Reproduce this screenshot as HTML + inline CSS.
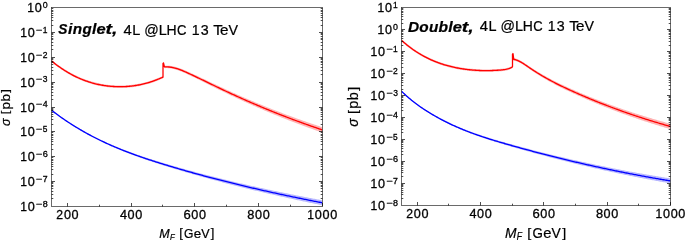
<!DOCTYPE html>
<html><head><meta charset="utf-8"><style>
html,body{margin:0;padding:0;background:#fff;}
svg{display:block;filter:blur(0.3px);}
text{font-family:"Liberation Sans",sans-serif;fill:#000;stroke:#000;stroke-width:0.3px;}
.t{stroke-width:0.3px;}
.a{stroke-width:0.22px;}
</style></head><body>
<svg width="685" height="240" viewBox="0 0 685 240">
<rect width="685" height="240" fill="#fff"/>
<path d="M51.60,59.79 L52.60,60.60 L53.60,61.40 L54.60,62.18 L55.60,62.95 L56.60,63.71 L57.60,64.45 L58.60,65.18 L59.60,65.89 L60.60,66.58 L61.60,67.27 L62.60,67.93 L63.60,68.59 L64.60,69.23 L65.60,69.86 L66.60,70.47 L67.60,71.07 L68.60,71.65 L69.60,72.22 L70.60,72.78 L71.60,73.33 L72.60,73.86 L73.60,74.37 L74.60,74.88 L75.60,75.37 L76.60,75.85 L77.60,76.32 L78.60,76.77 L79.60,77.21 L80.60,77.64 L81.60,78.05 L82.60,78.46 L83.60,78.85 L84.60,79.23 L85.60,79.59 L86.60,79.95 L87.60,80.29 L88.60,80.62 L89.60,80.94 L90.60,81.25 L91.60,81.55 L92.60,81.83 L93.60,82.10 L94.60,82.36 L95.60,82.62 L96.60,82.85 L97.60,83.08 L98.60,83.30 L99.60,83.51 L100.60,83.70 L101.60,83.89 L102.60,84.06 L103.60,84.23 L104.60,84.38 L105.60,84.53 L106.60,84.66 L107.60,84.78 L108.60,84.90 L109.60,85.00 L110.60,85.09 L111.60,85.18 L112.60,85.25 L113.60,85.32 L114.60,85.37 L115.60,85.42 L116.60,85.46 L117.60,85.48 L118.60,85.50 L119.60,85.51 L120.60,85.51 L121.60,85.50 L122.60,85.48 L123.60,85.45 L124.60,85.41 L125.60,85.36 L126.60,85.30 L127.60,85.23 L128.60,85.15 L129.60,85.06 L130.60,84.96 L131.60,84.85 L132.60,84.73 L133.60,84.60 L134.60,84.46 L135.60,84.31 L136.60,84.14 L137.60,83.97 L138.60,83.79 L139.60,83.59 L140.60,83.39 L141.60,83.17 L142.60,82.95 L143.60,82.71 L144.60,82.46 L145.60,82.20 L146.60,81.93 L147.60,81.65 L148.60,81.36 L149.60,81.06 L150.60,80.74 L151.60,80.42 L152.60,80.08 L153.60,79.73 L154.60,79.37 L155.60,79.00 L156.60,78.62 L157.60,78.22 L158.60,77.81 L159.60,77.39 L160.60,76.96 L161.60,76.52 L162.50,76.11 L163.00,76.00 L163.00,62.20 L163.50,61.70 L164.40,65.70 L165.00,65.74 L166.00,65.69 L167.00,65.67 L168.00,65.70 L169.00,65.76 L170.00,65.86 L171.00,65.98 L172.00,66.14 L173.00,66.33 L174.00,66.55 L175.00,66.79 L176.00,67.06 L177.00,67.35 L178.00,67.67 L179.00,68.00 L180.00,68.35 L181.00,68.72 L182.00,69.11 L183.00,69.51 L184.00,69.92 L185.00,70.34 L186.00,70.77 L187.00,71.22 L188.00,71.66 L189.00,72.11 L190.00,72.57 L191.00,73.03 L192.00,73.49 L193.00,73.95 L194.00,74.41 L195.00,74.88 L196.00,75.34 L197.00,75.81 L198.00,76.28 L199.00,76.75 L200.00,77.22 L201.00,77.69 L202.00,78.16 L203.00,78.64 L204.00,79.11 L205.00,79.58 L206.00,80.06 L207.00,80.53 L208.00,81.01 L209.00,81.48 L210.00,81.96 L211.00,82.43 L212.00,82.90 L213.00,83.38 L214.00,83.85 L215.00,84.33 L216.00,84.80 L217.00,85.27 L218.00,85.74 L219.00,86.21 L220.00,86.68 L221.00,87.15 L222.00,87.62 L223.00,88.08 L224.00,88.54 L225.00,89.01 L226.00,89.47 L227.00,89.93 L228.00,90.39 L229.00,90.84 L230.00,91.30 L231.00,91.75 L232.00,92.20 L233.00,92.65 L234.00,93.10 L235.00,93.55 L236.00,94.00 L237.00,94.44 L238.00,94.89 L239.00,95.33 L240.00,95.77 L241.00,96.21 L242.00,96.65 L243.00,97.09 L244.00,97.52 L245.00,97.95 L246.00,98.39 L247.00,98.82 L248.00,99.25 L249.00,99.68 L250.00,100.10 L251.00,100.53 L252.00,100.95 L253.00,101.37 L254.00,101.79 L255.00,102.21 L256.00,102.63 L257.00,103.05 L258.00,103.46 L259.00,103.88 L260.00,104.29 L261.00,104.70 L262.00,105.11 L263.00,105.52 L264.00,105.92 L265.00,106.33 L266.00,106.73 L267.00,107.14 L268.00,107.54 L269.00,107.94 L270.00,108.33 L271.00,108.73 L272.00,109.13 L273.00,109.52 L274.00,109.91 L275.00,110.30 L276.00,110.69 L277.00,111.08 L278.00,111.47 L279.00,111.85 L280.00,112.23 L281.00,112.62 L282.00,113.00 L283.00,113.38 L284.00,113.76 L285.00,114.13 L286.00,114.51 L287.00,114.88 L288.00,115.25 L289.00,115.62 L290.00,115.99 L291.00,116.36 L292.00,116.73 L293.00,117.09 L294.00,117.46 L295.00,117.82 L296.00,118.18 L297.00,118.54 L298.00,118.90 L299.00,119.26 L300.00,119.61 L301.00,119.97 L302.00,120.32 L303.00,120.67 L304.00,121.02 L305.00,121.37 L306.00,121.71 L307.00,122.06 L308.00,122.40 L309.00,122.75 L310.00,123.09 L311.00,123.43 L312.00,123.76 L313.00,124.10 L314.00,124.44 L315.00,124.77 L316.00,125.10 L317.00,125.43 L318.00,125.76 L319.00,126.09 L320.00,126.42 L321.00,126.75 L322.00,127.07 L322.20,127.13 L322.20,132.53 L322.00,132.47 L321.00,132.12 L320.00,131.78 L319.00,131.43 L318.00,131.08 L317.00,130.74 L316.00,130.39 L315.00,130.03 L314.00,129.68 L313.00,129.33 L312.00,128.97 L311.00,128.61 L310.00,128.25 L309.00,127.89 L308.00,127.53 L307.00,127.17 L306.00,126.80 L305.00,126.44 L304.00,126.07 L303.00,125.70 L302.00,125.33 L301.00,124.96 L300.00,124.59 L299.00,124.21 L298.00,123.84 L297.00,123.46 L296.00,123.08 L295.00,122.70 L294.00,122.32 L293.00,121.94 L292.00,121.55 L291.00,121.17 L290.00,120.78 L289.00,120.39 L288.00,120.00 L287.00,119.61 L286.00,119.22 L285.00,118.82 L284.00,118.43 L283.00,118.03 L282.00,117.63 L281.00,117.23 L280.00,116.83 L279.00,116.43 L278.00,116.02 L277.00,115.62 L276.00,115.21 L275.00,114.80 L274.00,114.39 L273.00,113.98 L272.00,113.57 L271.00,113.15 L270.00,112.74 L269.00,112.32 L268.00,111.90 L267.00,111.48 L266.00,111.06 L265.00,110.64 L264.00,110.21 L263.00,109.79 L262.00,109.36 L261.00,108.93 L260.00,108.50 L259.00,108.07 L258.00,107.64 L257.00,107.20 L256.00,106.77 L255.00,106.33 L254.00,105.89 L253.00,105.45 L252.00,105.01 L251.00,104.57 L250.00,104.12 L249.00,103.68 L248.00,103.23 L247.00,102.78 L246.00,102.33 L245.00,101.88 L244.00,101.43 L243.00,100.97 L242.00,100.52 L241.00,100.06 L240.00,99.60 L239.00,99.14 L238.00,98.68 L237.00,98.22 L236.00,97.75 L235.00,97.29 L234.00,96.82 L233.00,96.35 L232.00,95.88 L231.00,95.41 L230.00,94.94 L229.00,94.46 L228.00,93.99 L227.00,93.51 L226.00,93.03 L225.00,92.55 L224.00,92.07 L223.00,91.59 L222.00,91.10 L221.00,90.62 L220.00,90.13 L219.00,89.64 L218.00,89.15 L217.00,88.66 L216.00,88.17 L215.00,87.68 L214.00,87.19 L213.00,86.70 L212.00,86.20 L211.00,85.71 L210.00,85.21 L209.00,84.72 L208.00,84.23 L207.00,83.73 L206.00,83.24 L205.00,82.75 L204.00,82.25 L203.00,81.76 L202.00,81.27 L201.00,80.78 L200.00,80.29 L199.00,79.80 L198.00,79.31 L197.00,78.82 L196.00,78.33 L195.00,77.85 L194.00,77.37 L193.00,76.88 L192.00,76.40 L191.00,75.92 L190.00,75.45 L189.00,74.97 L188.00,74.50 L187.00,74.03 L186.00,73.58 L185.00,73.12 L184.00,72.68 L183.00,72.25 L182.00,71.83 L181.00,71.43 L180.00,71.04 L179.00,70.67 L178.00,70.31 L177.00,69.98 L176.00,69.67 L175.00,69.38 L174.00,69.12 L173.00,68.89 L172.00,68.68 L171.00,68.50 L170.00,68.35 L169.00,68.24 L168.00,68.16 L167.00,68.11 L166.00,68.10 L165.00,68.14 L164.40,68.10 L163.50,64.10 L163.00,64.60 L163.00,78.40 L162.50,78.51 L161.60,78.92 L160.60,79.36 L159.60,79.79 L158.60,80.21 L157.60,80.62 L156.60,81.02 L155.60,81.40 L154.60,81.77 L153.60,82.13 L152.60,82.48 L151.60,82.82 L150.60,83.14 L149.60,83.46 L148.60,83.76 L147.60,84.05 L146.60,84.33 L145.60,84.60 L144.60,84.86 L143.60,85.11 L142.60,85.35 L141.60,85.57 L140.60,85.79 L139.60,85.99 L138.60,86.19 L137.60,86.37 L136.60,86.54 L135.60,86.71 L134.60,86.86 L133.60,87.00 L132.60,87.13 L131.60,87.25 L130.60,87.36 L129.60,87.46 L128.60,87.55 L127.60,87.63 L126.60,87.70 L125.60,87.76 L124.60,87.81 L123.60,87.85 L122.60,87.88 L121.60,87.90 L120.60,87.91 L119.60,87.91 L118.60,87.90 L117.60,87.88 L116.60,87.86 L115.60,87.82 L114.60,87.77 L113.60,87.72 L112.60,87.65 L111.60,87.58 L110.60,87.49 L109.60,87.40 L108.60,87.30 L107.60,87.18 L106.60,87.06 L105.60,86.93 L104.60,86.78 L103.60,86.63 L102.60,86.46 L101.60,86.29 L100.60,86.10 L99.60,85.91 L98.60,85.70 L97.60,85.48 L96.60,85.25 L95.60,85.02 L94.60,84.76 L93.60,84.50 L92.60,84.23 L91.60,83.95 L90.60,83.65 L89.60,83.34 L88.60,83.02 L87.60,82.69 L86.60,82.35 L85.60,81.99 L84.60,81.63 L83.60,81.25 L82.60,80.86 L81.60,80.45 L80.60,80.04 L79.60,79.61 L78.60,79.17 L77.60,78.72 L76.60,78.25 L75.60,77.77 L74.60,77.28 L73.60,76.77 L72.60,76.26 L71.60,75.73 L70.60,75.18 L69.60,74.62 L68.60,74.05 L67.60,73.47 L66.60,72.87 L65.60,72.26 L64.60,71.63 L63.60,70.99 L62.60,70.33 L61.60,69.67 L60.60,68.98 L59.60,68.29 L58.60,67.58 L57.60,66.85 L56.60,66.11 L55.60,65.35 L54.60,64.58 L53.60,63.80 L52.60,63.00 L51.60,62.19 Z" fill="#ffb4b4"/>
<path d="M401.60,39.24 L402.60,40.12 L403.60,40.99 L404.60,41.83 L405.60,42.67 L406.60,43.48 L407.60,44.28 L408.60,45.06 L409.60,45.82 L410.60,46.57 L411.60,47.30 L412.60,48.01 L413.60,48.71 L414.60,49.40 L415.60,50.07 L416.60,50.72 L417.60,51.36 L418.60,51.98 L419.60,52.59 L420.60,53.19 L421.60,53.77 L422.60,54.34 L423.60,54.89 L424.60,55.43 L425.60,55.95 L426.60,56.47 L427.60,56.97 L428.60,57.45 L429.60,57.93 L430.60,58.39 L431.60,58.84 L432.60,59.27 L433.60,59.70 L434.60,60.11 L435.60,60.51 L436.60,60.90 L437.60,61.28 L438.60,61.65 L439.60,62.01 L440.60,62.35 L441.60,62.69 L442.60,63.02 L443.60,63.33 L444.60,63.64 L445.60,63.93 L446.60,64.22 L447.60,64.49 L448.60,64.76 L449.60,65.02 L450.60,65.27 L451.60,65.51 L452.60,65.75 L453.60,65.97 L454.60,66.19 L455.60,66.40 L456.60,66.60 L457.60,66.79 L458.60,66.98 L459.60,67.16 L460.60,67.33 L461.60,67.49 L462.60,67.65 L463.60,67.80 L464.60,67.94 L465.60,68.08 L466.60,68.21 L467.60,68.33 L468.60,68.45 L469.60,68.56 L470.60,68.66 L471.60,68.76 L472.60,68.85 L473.60,68.93 L474.60,69.00 L475.60,69.07 L476.60,69.14 L477.60,69.19 L478.60,69.24 L479.60,69.29 L480.60,69.33 L481.60,69.36 L482.60,69.38 L483.60,69.40 L484.60,69.41 L485.60,69.42 L486.60,69.42 L487.60,69.42 L488.60,69.41 L489.60,69.39 L490.60,69.37 L491.60,69.34 L492.60,69.30 L493.60,69.26 L494.60,69.22 L495.60,69.17 L496.60,69.11 L497.60,69.05 L498.60,68.98 L499.60,68.91 L500.60,68.83 L501.60,68.74 L502.60,68.64 L503.60,68.52 L504.60,68.38 L505.60,68.20 L506.60,67.99 L507.60,67.74 L508.60,67.44 L509.60,67.09 L510.60,66.68 L511.60,66.21 L512.30,65.84 L512.50,65.40 L512.50,52.90 L513.00,52.40 L513.80,58.30 L514.40,58.22 L515.40,58.48 L516.40,58.80 L517.40,59.18 L518.40,59.61 L519.40,60.08 L520.40,60.60 L521.40,61.15 L522.40,61.74 L523.40,62.35 L524.40,62.99 L525.40,63.64 L526.40,64.31 L527.40,64.99 L528.40,65.67 L529.40,66.35 L530.40,67.02 L531.40,67.69 L532.40,68.34 L533.40,68.99 L534.40,69.63 L535.40,70.26 L536.40,70.89 L537.40,71.50 L538.40,72.11 L539.40,72.71 L540.40,73.31 L541.40,73.89 L542.40,74.47 L543.40,75.05 L544.40,75.61 L545.40,76.18 L546.40,76.73 L547.40,77.28 L548.40,77.82 L549.40,78.36 L550.40,78.89 L551.40,79.41 L552.40,79.93 L553.40,80.44 L554.40,80.95 L555.40,81.46 L556.40,81.96 L557.40,82.45 L558.40,82.94 L559.40,83.43 L560.40,83.91 L561.40,84.39 L562.40,84.86 L563.40,85.33 L564.40,85.80 L565.40,86.26 L566.40,86.72 L567.40,87.18 L568.40,87.63 L569.40,88.08 L570.40,88.53 L571.40,88.98 L572.40,89.42 L573.40,89.86 L574.40,90.30 L575.40,90.74 L576.40,91.17 L577.40,91.61 L578.40,92.04 L579.40,92.47 L580.40,92.89 L581.40,93.32 L582.40,93.74 L583.40,94.16 L584.40,94.58 L585.40,94.99 L586.40,95.41 L587.40,95.82 L588.40,96.23 L589.40,96.64 L590.40,97.04 L591.40,97.45 L592.40,97.85 L593.40,98.25 L594.40,98.65 L595.40,99.05 L596.40,99.44 L597.40,99.83 L598.40,100.22 L599.40,100.61 L600.40,101.00 L601.40,101.38 L602.40,101.77 L603.40,102.15 L604.40,102.53 L605.40,102.90 L606.40,103.28 L607.40,103.65 L608.40,104.02 L609.40,104.39 L610.40,104.76 L611.40,105.13 L612.40,105.49 L613.40,105.86 L614.40,106.22 L615.40,106.58 L616.40,106.93 L617.40,107.29 L618.40,107.64 L619.40,107.99 L620.40,108.34 L621.40,108.69 L622.40,109.04 L623.40,109.38 L624.40,109.73 L625.40,110.07 L626.40,110.41 L627.40,110.75 L628.40,111.08 L629.40,111.42 L630.40,111.75 L631.40,112.08 L632.40,112.41 L633.40,112.74 L634.40,113.06 L635.40,113.39 L636.40,113.71 L637.40,114.03 L638.40,114.35 L639.40,114.67 L640.40,114.99 L641.40,115.30 L642.40,115.62 L643.40,115.93 L644.40,116.24 L645.40,116.55 L646.40,116.85 L647.40,117.16 L648.40,117.46 L649.40,117.76 L650.40,118.07 L651.40,118.36 L652.40,118.66 L653.40,118.96 L654.40,119.25 L655.40,119.55 L656.40,119.84 L657.40,120.13 L658.40,120.42 L659.40,120.71 L660.40,120.99 L661.40,121.28 L662.40,121.56 L663.40,121.84 L664.40,122.12 L665.40,122.40 L666.40,122.68 L667.40,122.95 L668.40,123.23 L669.40,123.50 L670.40,123.77 L670.40,129.17 L669.40,128.88 L668.40,128.59 L667.40,128.30 L666.40,128.00 L665.40,127.71 L664.40,127.41 L663.40,127.11 L662.40,126.81 L661.40,126.50 L660.40,126.20 L659.40,125.90 L658.40,125.59 L657.40,125.28 L656.40,124.97 L655.40,124.66 L654.40,124.35 L653.40,124.03 L652.40,123.72 L651.40,123.40 L650.40,123.08 L649.40,122.76 L648.40,122.44 L647.40,122.12 L646.40,121.79 L645.40,121.47 L644.40,121.14 L643.40,120.81 L642.40,120.48 L641.40,120.15 L640.40,119.81 L639.40,119.48 L638.40,119.14 L637.40,118.80 L636.40,118.46 L635.40,118.12 L634.40,117.77 L633.40,117.43 L632.40,117.08 L631.40,116.73 L630.40,116.38 L629.40,116.03 L628.40,115.68 L627.40,115.32 L626.40,114.96 L625.40,114.60 L624.40,114.24 L623.40,113.88 L622.40,113.52 L621.40,113.15 L620.40,112.78 L619.40,112.42 L618.40,112.04 L617.40,111.67 L616.40,111.30 L615.40,110.92 L614.40,110.54 L613.40,110.16 L612.40,109.78 L611.40,109.40 L610.40,109.01 L609.40,108.62 L608.40,108.24 L607.40,107.84 L606.40,107.45 L605.40,107.06 L604.40,106.66 L603.40,106.26 L602.40,105.86 L601.40,105.46 L600.40,105.06 L599.40,104.65 L598.40,104.24 L597.40,103.83 L596.40,103.42 L595.40,103.01 L594.40,102.59 L593.40,102.17 L592.40,101.76 L591.40,101.33 L590.40,100.91 L589.40,100.48 L588.40,100.06 L587.40,99.63 L586.40,99.20 L585.40,98.76 L584.40,98.33 L583.40,97.89 L582.40,97.45 L581.40,97.01 L580.40,96.57 L579.40,96.12 L578.40,95.67 L577.40,95.22 L576.40,94.77 L575.40,94.32 L574.40,93.86 L573.40,93.40 L572.40,92.94 L571.40,92.48 L570.40,92.01 L569.40,91.55 L568.40,91.08 L567.40,90.60 L566.40,90.13 L565.40,89.65 L564.40,89.17 L563.40,88.68 L562.40,88.19 L561.40,87.70 L560.40,87.20 L559.40,86.70 L558.40,86.19 L557.40,85.69 L556.40,85.17 L555.40,84.65 L554.40,84.13 L553.40,83.60 L552.40,83.07 L551.40,82.53 L550.40,81.98 L549.40,81.43 L548.40,80.88 L547.40,80.32 L546.40,79.75 L545.40,79.18 L544.40,78.60 L543.40,78.01 L542.40,77.42 L541.40,76.82 L540.40,76.21 L539.40,75.60 L538.40,74.98 L537.40,74.35 L536.40,73.72 L535.40,73.07 L534.40,72.42 L533.40,71.76 L532.40,71.09 L531.40,70.42 L530.40,69.74 L529.40,69.04 L528.40,68.34 L527.40,67.65 L526.40,66.95 L525.40,66.26 L524.40,65.59 L523.40,64.93 L522.40,64.30 L521.40,63.70 L520.40,63.12 L519.40,62.59 L518.40,62.09 L517.40,61.64 L516.40,61.25 L515.40,60.90 L514.40,60.62 L513.80,60.70 L513.00,54.80 L512.50,55.30 L512.50,67.80 L512.30,68.24 L511.60,68.61 L510.60,69.08 L509.60,69.49 L508.60,69.84 L507.60,70.14 L506.60,70.39 L505.60,70.60 L504.60,70.78 L503.60,70.92 L502.60,71.04 L501.60,71.14 L500.60,71.23 L499.60,71.31 L498.60,71.38 L497.60,71.45 L496.60,71.51 L495.60,71.57 L494.60,71.62 L493.60,71.66 L492.60,71.70 L491.60,71.74 L490.60,71.77 L489.60,71.79 L488.60,71.81 L487.60,71.82 L486.60,71.82 L485.60,71.82 L484.60,71.81 L483.60,71.80 L482.60,71.78 L481.60,71.76 L480.60,71.73 L479.60,71.69 L478.60,71.64 L477.60,71.59 L476.60,71.54 L475.60,71.47 L474.60,71.40 L473.60,71.33 L472.60,71.25 L471.60,71.16 L470.60,71.06 L469.60,70.96 L468.60,70.85 L467.60,70.73 L466.60,70.61 L465.60,70.48 L464.60,70.34 L463.60,70.20 L462.60,70.05 L461.60,69.89 L460.60,69.73 L459.60,69.56 L458.60,69.38 L457.60,69.19 L456.60,69.00 L455.60,68.80 L454.60,68.59 L453.60,68.37 L452.60,68.15 L451.60,67.91 L450.60,67.67 L449.60,67.42 L448.60,67.16 L447.60,66.89 L446.60,66.62 L445.60,66.33 L444.60,66.04 L443.60,65.73 L442.60,65.42 L441.60,65.09 L440.60,64.75 L439.60,64.41 L438.60,64.05 L437.60,63.68 L436.60,63.30 L435.60,62.91 L434.60,62.51 L433.60,62.10 L432.60,61.67 L431.60,61.24 L430.60,60.79 L429.60,60.33 L428.60,59.85 L427.60,59.37 L426.60,58.87 L425.60,58.35 L424.60,57.83 L423.60,57.29 L422.60,56.74 L421.60,56.17 L420.60,55.59 L419.60,54.99 L418.60,54.38 L417.60,53.76 L416.60,53.12 L415.60,52.47 L414.60,51.80 L413.60,51.11 L412.60,50.41 L411.60,49.70 L410.60,48.97 L409.60,48.22 L408.60,47.46 L407.60,46.68 L406.60,45.88 L405.60,45.07 L404.60,44.23 L403.60,43.39 L402.60,42.52 L401.60,41.64 Z" fill="#ffb4b4"/>
<path d="M51.60,109.73 L52.60,110.49 L53.60,111.25 L54.60,112.00 L55.60,112.74 L56.60,113.48 L57.60,114.20 L58.60,114.92 L59.60,115.64 L60.60,116.35 L61.60,117.05 L62.60,117.74 L63.60,118.43 L64.60,119.11 L65.60,119.78 L66.60,120.45 L67.60,121.11 L68.60,121.76 L69.60,122.41 L70.60,123.05 L71.60,123.69 L72.60,124.32 L73.60,124.94 L74.60,125.56 L75.60,126.17 L76.60,126.78 L77.60,127.38 L78.60,127.97 L79.60,128.56 L80.60,129.14 L81.60,129.72 L82.60,130.29 L83.60,130.86 L84.60,131.42 L85.60,131.97 L86.60,132.52 L87.60,133.07 L88.60,133.61 L89.60,134.14 L90.60,134.67 L91.60,135.19 L92.60,135.71 L93.60,136.23 L94.60,136.73 L95.60,137.24 L96.60,137.74 L97.60,138.23 L98.60,138.72 L99.60,139.21 L100.60,139.69 L101.60,140.16 L102.60,140.63 L103.60,141.10 L104.60,141.56 L105.60,142.02 L106.60,142.48 L107.60,142.93 L108.60,143.37 L109.60,143.81 L110.60,144.25 L111.60,144.68 L112.60,145.11 L113.60,145.54 L114.60,145.96 L115.60,146.38 L116.60,146.79 L117.60,147.20 L118.60,147.61 L119.60,148.01 L120.60,148.41 L121.60,148.81 L122.60,149.20 L123.60,149.59 L124.60,149.98 L125.60,150.36 L126.60,150.74 L127.60,151.12 L128.60,151.49 L129.60,151.87 L130.60,152.23 L131.60,152.60 L132.60,152.96 L133.60,153.32 L134.60,153.68 L135.60,154.03 L136.60,154.38 L137.60,154.73 L138.60,155.08 L139.60,155.42 L140.60,155.76 L141.60,156.10 L142.60,156.43 L143.60,156.77 L144.60,157.10 L145.60,157.43 L146.60,157.76 L147.60,158.08 L148.60,158.41 L149.60,158.73 L150.60,159.05 L151.60,159.37 L152.60,159.68 L153.60,160.00 L154.60,160.31 L155.60,160.62 L156.60,160.93 L157.60,161.24 L158.60,161.55 L159.60,161.85 L160.60,162.15 L161.60,162.46 L162.60,162.76 L163.60,163.06 L164.60,163.36 L165.60,163.66 L166.60,163.95 L167.60,164.25 L168.60,164.54 L169.60,164.84 L170.60,165.13 L171.60,165.42 L172.60,165.71 L173.60,166.00 L174.60,166.29 L175.60,166.58 L176.60,166.87 L177.60,167.15 L178.60,167.44 L179.60,167.72 L180.60,168.01 L181.60,168.29 L182.60,168.57 L183.60,168.85 L184.60,169.13 L185.60,169.41 L186.60,169.68 L187.60,169.96 L188.60,170.24 L189.60,170.51 L190.60,170.79 L191.60,171.06 L192.60,171.33 L193.60,171.60 L194.60,171.87 L195.60,172.14 L196.60,172.41 L197.60,172.68 L198.60,172.94 L199.60,173.21 L200.60,173.47 L201.60,173.74 L202.60,174.00 L203.60,174.26 L204.60,174.53 L205.60,174.79 L206.60,175.05 L207.60,175.30 L208.60,175.56 L209.60,175.82 L210.60,176.08 L211.60,176.33 L212.60,176.59 L213.60,176.84 L214.60,177.09 L215.60,177.35 L216.60,177.60 L217.60,177.85 L218.60,178.10 L219.60,178.35 L220.60,178.59 L221.60,178.84 L222.60,179.09 L223.60,179.33 L224.60,179.58 L225.60,179.82 L226.60,180.07 L227.60,180.31 L228.60,180.55 L229.60,180.79 L230.60,181.03 L231.60,181.27 L232.60,181.51 L233.60,181.75 L234.60,181.98 L235.60,182.22 L236.60,182.46 L237.60,182.69 L238.60,182.93 L239.60,183.16 L240.60,183.39 L241.60,183.62 L242.60,183.86 L243.60,184.09 L244.60,184.32 L245.60,184.55 L246.60,184.77 L247.60,185.00 L248.60,185.23 L249.60,185.46 L250.60,185.68 L251.60,185.91 L252.60,186.13 L253.60,186.35 L254.60,186.58 L255.60,186.80 L256.60,187.02 L257.60,187.24 L258.60,187.46 L259.60,187.68 L260.60,187.90 L261.60,188.12 L262.60,188.34 L263.60,188.55 L264.60,188.77 L265.60,188.99 L266.60,189.20 L267.60,189.42 L268.60,189.63 L269.60,189.84 L270.60,190.05 L271.60,190.27 L272.60,190.48 L273.60,190.69 L274.60,190.90 L275.60,191.11 L276.60,191.32 L277.60,191.53 L278.60,191.73 L279.60,191.94 L280.60,192.15 L281.60,192.35 L282.60,192.56 L283.60,192.76 L284.60,192.97 L285.60,193.17 L286.60,193.37 L287.60,193.58 L288.60,193.78 L289.60,193.98 L290.60,194.18 L291.60,194.38 L292.60,194.58 L293.60,194.78 L294.60,194.98 L295.60,195.18 L296.60,195.38 L297.60,195.57 L298.60,195.77 L299.60,195.97 L300.60,196.16 L301.60,196.36 L302.60,196.55 L303.60,196.75 L304.60,196.94 L305.60,197.13 L306.60,197.33 L307.60,197.52 L308.60,197.71 L309.60,197.90 L310.60,198.09 L311.60,198.28 L312.60,198.47 L313.60,198.66 L314.60,198.85 L315.60,199.04 L316.60,199.23 L317.60,199.41 L318.60,199.60 L319.60,199.79 L320.60,199.97 L321.60,200.16 L322.20,200.27 L322.20,205.27 L321.60,205.15 L320.60,204.94 L319.60,204.74 L318.60,204.54 L317.60,204.33 L316.60,204.12 L315.60,203.92 L314.60,203.71 L313.60,203.50 L312.60,203.30 L311.60,203.09 L310.60,202.88 L309.60,202.67 L308.60,202.46 L307.60,202.25 L306.60,202.04 L305.60,201.83 L304.60,201.62 L303.60,201.41 L302.60,201.20 L301.60,200.99 L300.60,200.77 L299.60,200.56 L298.60,200.34 L297.60,200.13 L296.60,199.92 L295.60,199.70 L294.60,199.48 L293.60,199.27 L292.60,199.05 L291.60,198.83 L290.60,198.62 L289.60,198.40 L288.60,198.18 L287.60,197.96 L286.60,197.74 L285.60,197.52 L284.60,197.30 L283.60,197.07 L282.60,196.85 L281.60,196.63 L280.60,196.41 L279.60,196.18 L278.60,195.96 L277.60,195.73 L276.60,195.51 L275.60,195.28 L274.60,195.05 L273.60,194.83 L272.60,194.60 L271.60,194.37 L270.60,194.14 L269.60,193.91 L268.60,193.68 L267.60,193.45 L266.60,193.22 L265.60,192.99 L264.60,192.75 L263.60,192.52 L262.60,192.29 L261.60,192.05 L260.60,191.82 L259.60,191.58 L258.60,191.34 L257.60,191.11 L256.60,190.87 L255.60,190.63 L254.60,190.39 L253.60,190.15 L252.60,189.91 L251.60,189.67 L250.60,189.43 L249.60,189.19 L248.60,188.94 L247.60,188.70 L246.60,188.46 L245.60,188.21 L244.60,187.97 L243.60,187.72 L242.60,187.47 L241.60,187.22 L240.60,186.98 L239.60,186.73 L238.60,186.48 L237.60,186.23 L236.60,185.98 L235.60,185.72 L234.60,185.47 L233.60,185.22 L232.60,184.96 L231.60,184.71 L230.60,184.45 L229.60,184.20 L228.60,183.94 L227.60,183.68 L226.60,183.42 L225.60,183.16 L224.60,182.90 L223.60,182.64 L222.60,182.38 L221.60,182.12 L220.60,181.86 L219.60,181.59 L218.60,181.33 L217.60,181.06 L216.60,180.79 L215.60,180.53 L214.60,180.26 L213.60,179.99 L212.60,179.72 L211.60,179.45 L210.60,179.18 L209.60,178.91 L208.60,178.64 L207.60,178.36 L206.60,178.09 L205.60,177.81 L204.60,177.54 L203.60,177.26 L202.60,176.98 L201.60,176.70 L200.60,176.42 L199.60,176.14 L198.60,175.86 L197.60,175.58 L196.60,175.30 L195.60,175.02 L194.60,174.73 L193.60,174.45 L192.60,174.16 L191.60,173.87 L190.60,173.58 L189.60,173.30 L188.60,173.01 L187.60,172.72 L186.60,172.42 L185.60,172.13 L184.60,171.84 L183.60,171.54 L182.60,171.25 L181.60,170.95 L180.60,170.66 L179.60,170.36 L178.60,170.06 L177.60,169.76 L176.60,169.46 L175.60,169.16 L174.60,168.86 L173.60,168.55 L172.60,168.25 L171.60,167.94 L170.60,167.64 L169.60,167.33 L168.60,167.02 L167.60,166.71 L166.60,166.40 L165.60,166.09 L164.60,165.78 L163.60,165.47 L162.60,165.15 L161.60,164.84 L160.60,164.52 L159.60,164.20 L158.60,163.88 L157.60,163.56 L156.60,163.24 L155.60,162.92 L154.60,162.59 L153.60,162.27 L152.60,161.94 L151.60,161.61 L150.60,161.28 L149.60,160.94 L148.60,160.61 L147.60,160.27 L146.60,159.93 L145.60,159.59 L144.60,159.25 L143.60,158.90 L142.60,158.56 L141.60,158.21 L140.60,157.86 L139.60,157.50 L138.60,157.15 L137.60,156.79 L136.60,156.42 L135.60,156.06 L134.60,155.69 L133.60,155.32 L132.60,154.95 L131.60,154.58 L130.60,154.20 L129.60,153.82 L128.60,153.44 L127.60,153.05 L126.60,152.66 L125.60,152.27 L124.60,151.87 L123.60,151.47 L122.60,151.07 L121.60,150.67 L120.60,150.26 L119.60,149.85 L118.60,149.43 L117.60,149.01 L116.60,148.59 L115.60,148.16 L114.60,147.73 L113.60,147.30 L112.60,146.86 L111.60,146.42 L110.60,145.98 L109.60,145.53 L108.60,145.07 L107.60,144.62 L106.60,144.16 L105.60,143.69 L104.60,143.22 L103.60,142.75 L102.60,142.27 L101.60,141.79 L100.60,141.30 L99.60,140.81 L98.60,140.31 L97.60,139.81 L96.60,139.31 L95.60,138.80 L94.60,138.28 L93.60,137.76 L92.60,137.24 L91.60,136.71 L90.60,136.18 L89.60,135.64 L88.60,135.09 L87.60,134.54 L86.60,133.99 L85.60,133.43 L84.60,132.87 L83.60,132.30 L82.60,131.72 L81.60,131.14 L80.60,130.55 L79.60,129.96 L78.60,129.36 L77.60,128.76 L76.60,128.15 L75.60,127.54 L74.60,126.92 L73.60,126.29 L72.60,125.66 L71.60,125.02 L70.60,124.37 L69.60,123.72 L68.60,123.07 L67.60,122.41 L66.60,121.74 L65.60,121.06 L64.60,120.38 L63.60,119.69 L62.60,119.00 L61.60,118.30 L60.60,117.59 L59.60,116.88 L58.60,116.16 L57.60,115.43 L56.60,114.70 L55.60,113.96 L54.60,113.21 L53.60,112.46 L52.60,111.70 L51.60,110.93 Z" fill="#b8b8ff"/>
<path d="M401.50,90.60 L402.50,91.58 L403.50,92.54 L404.50,93.48 L405.50,94.40 L406.50,95.30 L407.50,96.19 L408.50,97.05 L409.50,97.90 L410.50,98.73 L411.50,99.55 L412.50,100.35 L413.50,101.13 L414.50,101.90 L415.50,102.66 L416.50,103.40 L417.50,104.13 L418.50,104.85 L419.50,105.55 L420.50,106.25 L421.50,106.93 L422.50,107.60 L423.50,108.26 L424.50,108.92 L425.50,109.56 L426.50,110.20 L427.50,110.83 L428.50,111.45 L429.50,112.06 L430.50,112.67 L431.50,113.26 L432.50,113.85 L433.50,114.44 L434.50,115.01 L435.50,115.58 L436.50,116.14 L437.50,116.69 L438.50,117.24 L439.50,117.78 L440.50,118.31 L441.50,118.84 L442.50,119.36 L443.50,119.87 L444.50,120.38 L445.50,120.88 L446.50,121.38 L447.50,121.87 L448.50,122.35 L449.50,122.82 L450.50,123.29 L451.50,123.76 L452.50,124.22 L453.50,124.67 L454.50,125.12 L455.50,125.56 L456.50,126.00 L457.50,126.43 L458.50,126.85 L459.50,127.28 L460.50,127.69 L461.50,128.10 L462.50,128.51 L463.50,128.91 L464.50,129.31 L465.50,129.70 L466.50,130.09 L467.50,130.47 L468.50,130.85 L469.50,131.23 L470.50,131.60 L471.50,131.96 L472.50,132.33 L473.50,132.68 L474.50,133.04 L475.50,133.39 L476.50,133.74 L477.50,134.08 L478.50,134.42 L479.50,134.76 L480.50,135.09 L481.50,135.43 L482.50,135.75 L483.50,136.08 L484.50,136.40 L485.50,136.72 L486.50,137.04 L487.50,137.35 L488.50,137.66 L489.50,137.97 L490.50,138.27 L491.50,138.58 L492.50,138.88 L493.50,139.18 L494.50,139.48 L495.50,139.77 L496.50,140.07 L497.50,140.36 L498.50,140.65 L499.50,140.94 L500.50,141.22 L501.50,141.51 L502.50,141.79 L503.50,142.08 L504.50,142.36 L505.50,142.64 L506.50,142.92 L507.50,143.20 L508.50,143.48 L509.50,143.75 L510.50,144.03 L511.50,144.31 L512.50,144.58 L513.50,144.85 L514.50,145.13 L515.50,145.40 L516.50,145.67 L517.50,145.94 L518.50,146.21 L519.50,146.48 L520.50,146.75 L521.50,147.02 L522.50,147.29 L523.50,147.55 L524.50,147.82 L525.50,148.08 L526.50,148.35 L527.50,148.61 L528.50,148.87 L529.50,149.13 L530.50,149.39 L531.50,149.65 L532.50,149.91 L533.50,150.17 L534.50,150.43 L535.50,150.69 L536.50,150.94 L537.50,151.20 L538.50,151.45 L539.50,151.71 L540.50,151.96 L541.50,152.21 L542.50,152.47 L543.50,152.72 L544.50,152.97 L545.50,153.22 L546.50,153.46 L547.50,153.71 L548.50,153.96 L549.50,154.21 L550.50,154.45 L551.50,154.70 L552.50,154.94 L553.50,155.18 L554.50,155.43 L555.50,155.67 L556.50,155.91 L557.50,156.15 L558.50,156.39 L559.50,156.63 L560.50,156.86 L561.50,157.10 L562.50,157.34 L563.50,157.57 L564.50,157.81 L565.50,158.04 L566.50,158.28 L567.50,158.51 L568.50,158.74 L569.50,158.97 L570.50,159.20 L571.50,159.43 L572.50,159.66 L573.50,159.89 L574.50,160.11 L575.50,160.34 L576.50,160.57 L577.50,160.79 L578.50,161.02 L579.50,161.24 L580.50,161.46 L581.50,161.68 L582.50,161.90 L583.50,162.12 L584.50,162.34 L585.50,162.56 L586.50,162.78 L587.50,163.00 L588.50,163.21 L589.50,163.43 L590.50,163.65 L591.50,163.86 L592.50,164.07 L593.50,164.29 L594.50,164.50 L595.50,164.71 L596.50,164.92 L597.50,165.13 L598.50,165.34 L599.50,165.55 L600.50,165.75 L601.50,165.96 L602.50,166.17 L603.50,166.37 L604.50,166.58 L605.50,166.78 L606.50,166.98 L607.50,167.19 L608.50,167.39 L609.50,167.59 L610.50,167.79 L611.50,167.99 L612.50,168.19 L613.50,168.38 L614.50,168.58 L615.50,168.78 L616.50,168.97 L617.50,169.17 L618.50,169.36 L619.50,169.55 L620.50,169.75 L621.50,169.94 L622.50,170.13 L623.50,170.32 L624.50,170.51 L625.50,170.70 L626.50,170.88 L627.50,171.07 L628.50,171.26 L629.50,171.44 L630.50,171.63 L631.50,171.81 L632.50,172.00 L633.50,172.18 L634.50,172.36 L635.50,172.54 L636.50,172.72 L637.50,172.90 L638.50,173.08 L639.50,173.26 L640.50,173.44 L641.50,173.61 L642.50,173.79 L643.50,173.96 L644.50,174.14 L645.50,174.31 L646.50,174.48 L647.50,174.66 L648.50,174.83 L649.50,175.00 L650.50,175.17 L651.50,175.34 L652.50,175.51 L653.50,175.67 L654.50,175.84 L655.50,176.01 L656.50,176.17 L657.50,176.34 L658.50,176.50 L659.50,176.66 L660.50,176.83 L661.50,176.99 L662.50,177.15 L663.50,177.31 L664.50,177.47 L665.50,177.63 L666.50,177.79 L667.50,177.94 L668.50,178.10 L669.50,178.26 L670.40,178.40 L670.40,183.40 L669.50,183.24 L668.50,183.07 L667.50,182.89 L666.50,182.72 L665.50,182.54 L664.50,182.36 L663.50,182.18 L662.50,182.01 L661.50,181.83 L660.50,181.65 L659.50,181.47 L658.50,181.28 L657.50,181.10 L656.50,180.92 L655.50,180.74 L654.50,180.55 L653.50,180.37 L652.50,180.18 L651.50,179.99 L650.50,179.81 L649.50,179.62 L648.50,179.43 L647.50,179.24 L646.50,179.05 L645.50,178.86 L644.50,178.67 L643.50,178.48 L642.50,178.28 L641.50,178.09 L640.50,177.90 L639.50,177.70 L638.50,177.50 L637.50,177.31 L636.50,177.11 L635.50,176.91 L634.50,176.71 L633.50,176.51 L632.50,176.31 L631.50,176.11 L630.50,175.91 L629.50,175.71 L628.50,175.51 L627.50,175.30 L626.50,175.10 L625.50,174.89 L624.50,174.69 L623.50,174.48 L622.50,174.27 L621.50,174.06 L620.50,173.86 L619.50,173.65 L618.50,173.44 L617.50,173.22 L616.50,173.01 L615.50,172.80 L614.50,172.59 L613.50,172.37 L612.50,172.16 L611.50,171.94 L610.50,171.73 L609.50,171.51 L608.50,171.29 L607.50,171.07 L606.50,170.85 L605.50,170.63 L604.50,170.41 L603.50,170.19 L602.50,169.97 L601.50,169.75 L600.50,169.52 L599.50,169.30 L598.50,169.07 L597.50,168.85 L596.50,168.62 L595.50,168.40 L594.50,168.17 L593.50,167.94 L592.50,167.71 L591.50,167.48 L590.50,167.25 L589.50,167.02 L588.50,166.78 L587.50,166.55 L586.50,166.32 L585.50,166.08 L584.50,165.85 L583.50,165.61 L582.50,165.38 L581.50,165.14 L580.50,164.90 L579.50,164.66 L578.50,164.42 L577.50,164.18 L576.50,163.94 L575.50,163.70 L574.50,163.46 L573.50,163.21 L572.50,162.97 L571.50,162.72 L570.50,162.48 L569.50,162.23 L568.50,161.99 L567.50,161.74 L566.50,161.49 L565.50,161.24 L564.50,160.99 L563.50,160.74 L562.50,160.49 L561.50,160.24 L560.50,159.98 L559.50,159.73 L558.50,159.48 L557.50,159.22 L556.50,158.97 L555.50,158.71 L554.50,158.45 L553.50,158.19 L552.50,157.93 L551.50,157.68 L550.50,157.42 L549.50,157.15 L548.50,156.89 L547.50,156.63 L546.50,156.37 L545.50,156.10 L544.50,155.84 L543.50,155.57 L542.50,155.31 L541.50,155.04 L540.50,154.77 L539.50,154.50 L538.50,154.24 L537.50,153.97 L536.50,153.70 L535.50,153.42 L534.50,153.15 L533.50,152.88 L532.50,152.61 L531.50,152.33 L530.50,152.06 L529.50,151.78 L528.50,151.51 L527.50,151.23 L526.50,150.95 L525.50,150.67 L524.50,150.39 L523.50,150.11 L522.50,149.83 L521.50,149.55 L520.50,149.27 L519.50,148.98 L518.50,148.70 L517.50,148.42 L516.50,148.13 L515.50,147.85 L514.50,147.56 L513.50,147.27 L512.50,146.98 L511.50,146.69 L510.50,146.40 L509.50,146.11 L508.50,145.82 L507.50,145.53 L506.50,145.24 L505.50,144.94 L504.50,144.65 L503.50,144.35 L502.50,144.06 L501.50,143.76 L500.50,143.46 L499.50,143.16 L498.50,142.86 L497.50,142.55 L496.50,142.25 L495.50,141.94 L494.50,141.63 L493.50,141.32 L492.50,141.01 L491.50,140.69 L490.50,140.38 L489.50,140.06 L488.50,139.74 L487.50,139.41 L486.50,139.09 L485.50,138.76 L484.50,138.42 L483.50,138.09 L482.50,137.75 L481.50,137.41 L480.50,137.07 L479.50,136.72 L478.50,136.37 L477.50,136.02 L476.50,135.66 L475.50,135.30 L474.50,134.94 L473.50,134.57 L472.50,134.20 L471.50,133.82 L470.50,133.44 L469.50,133.06 L468.50,132.67 L467.50,132.28 L466.50,131.89 L465.50,131.49 L464.50,131.08 L463.50,130.68 L462.50,130.26 L461.50,129.84 L460.50,129.42 L459.50,128.99 L458.50,128.56 L457.50,128.12 L456.50,127.68 L455.50,127.23 L454.50,126.78 L453.50,126.32 L452.50,125.85 L451.50,125.38 L450.50,124.91 L449.50,124.43 L448.50,123.94 L447.50,123.45 L446.50,122.95 L445.50,122.44 L444.50,121.93 L443.50,121.41 L442.50,120.89 L441.50,120.36 L440.50,119.82 L439.50,119.28 L438.50,118.73 L437.50,118.17 L436.50,117.61 L435.50,117.04 L434.50,116.46 L433.50,115.87 L432.50,115.28 L431.50,114.68 L430.50,114.08 L429.50,113.46 L428.50,112.84 L427.50,112.21 L426.50,111.57 L425.50,110.93 L424.50,110.27 L423.50,109.61 L422.50,108.94 L421.50,108.26 L420.50,107.57 L419.50,106.87 L418.50,106.15 L417.50,105.43 L416.50,104.69 L415.50,103.94 L414.50,103.18 L413.50,102.40 L412.50,101.61 L411.50,100.80 L410.50,99.98 L409.50,99.14 L408.50,98.29 L407.50,97.41 L406.50,96.52 L405.50,95.62 L404.50,94.69 L403.50,93.75 L402.50,92.78 L401.50,91.80 Z" fill="#b8b8ff"/>
<path d="M51.60,60.99 L52.60,61.80 L53.60,62.60 L54.60,63.38 L55.60,64.15 L56.60,64.91 L57.60,65.65 L58.60,66.38 L59.60,67.09 L60.60,67.78 L61.60,68.47 L62.60,69.13 L63.60,69.79 L64.60,70.43 L65.60,71.06 L66.60,71.67 L67.60,72.27 L68.60,72.85 L69.60,73.42 L70.60,73.98 L71.60,74.53 L72.60,75.06 L73.60,75.57 L74.60,76.08 L75.60,76.57 L76.60,77.05 L77.60,77.52 L78.60,77.97 L79.60,78.41 L80.60,78.84 L81.60,79.25 L82.60,79.66 L83.60,80.05 L84.60,80.43 L85.60,80.79 L86.60,81.15 L87.60,81.49 L88.60,81.82 L89.60,82.14 L90.60,82.45 L91.60,82.75 L92.60,83.03 L93.60,83.30 L94.60,83.56 L95.60,83.82 L96.60,84.05 L97.60,84.28 L98.60,84.50 L99.60,84.71 L100.60,84.90 L101.60,85.09 L102.60,85.26 L103.60,85.43 L104.60,85.58 L105.60,85.73 L106.60,85.86 L107.60,85.98 L108.60,86.10 L109.60,86.20 L110.60,86.29 L111.60,86.38 L112.60,86.45 L113.60,86.52 L114.60,86.57 L115.60,86.62 L116.60,86.66 L117.60,86.68 L118.60,86.70 L119.60,86.71 L120.60,86.71 L121.60,86.70 L122.60,86.68 L123.60,86.65 L124.60,86.61 L125.60,86.56 L126.60,86.50 L127.60,86.43 L128.60,86.35 L129.60,86.26 L130.60,86.16 L131.60,86.05 L132.60,85.93 L133.60,85.80 L134.60,85.66 L135.60,85.51 L136.60,85.34 L137.60,85.17 L138.60,84.99 L139.60,84.79 L140.60,84.59 L141.60,84.37 L142.60,84.15 L143.60,83.91 L144.60,83.66 L145.60,83.40 L146.60,83.13 L147.60,82.85 L148.60,82.56 L149.60,82.26 L150.60,81.94 L151.60,81.62 L152.60,81.28 L153.60,80.93 L154.60,80.57 L155.60,80.20 L156.60,79.82 L157.60,79.42 L158.60,79.01 L159.60,78.59 L160.60,78.16 L161.60,77.72 L162.50,77.31 L163.00,77.20 L163.00,63.40 L163.50,62.90 L164.40,66.90 L165.00,66.94 L166.00,66.89 L167.00,66.89 L168.00,66.93 L169.00,67.00 L170.00,67.10 L171.00,67.24 L172.00,67.41 L173.00,67.61 L174.00,67.84 L175.00,68.09 L176.00,68.37 L177.00,68.67 L178.00,68.99 L179.00,69.33 L180.00,69.69 L181.00,70.07 L182.00,70.47 L183.00,70.88 L184.00,71.30 L185.00,71.73 L186.00,72.17 L187.00,72.63 L188.00,73.08 L189.00,73.54 L190.00,74.01 L191.00,74.48 L192.00,74.95 L193.00,75.42 L194.00,75.89 L195.00,76.36 L196.00,76.84 L197.00,77.32 L198.00,77.79 L199.00,78.27 L200.00,78.75 L201.00,79.23 L202.00,79.72 L203.00,80.20 L204.00,80.68 L205.00,81.16 L206.00,81.65 L207.00,82.13 L208.00,82.62 L209.00,83.10 L210.00,83.59 L211.00,84.07 L212.00,84.55 L213.00,85.04 L214.00,85.52 L215.00,86.00 L216.00,86.49 L217.00,86.97 L218.00,87.45 L219.00,87.93 L220.00,88.41 L221.00,88.88 L222.00,89.36 L223.00,89.83 L224.00,90.31 L225.00,90.78 L226.00,91.25 L227.00,91.72 L228.00,92.19 L229.00,92.65 L230.00,93.12 L231.00,93.58 L232.00,94.04 L233.00,94.50 L234.00,94.96 L235.00,95.42 L236.00,95.88 L237.00,96.33 L238.00,96.78 L239.00,97.24 L240.00,97.69 L241.00,98.14 L242.00,98.58 L243.00,99.03 L244.00,99.47 L245.00,99.92 L246.00,100.36 L247.00,100.80 L248.00,101.24 L249.00,101.68 L250.00,102.11 L251.00,102.55 L252.00,102.98 L253.00,103.41 L254.00,103.84 L255.00,104.27 L256.00,104.70 L257.00,105.13 L258.00,105.55 L259.00,105.97 L260.00,106.40 L261.00,106.82 L262.00,107.23 L263.00,107.65 L264.00,108.07 L265.00,108.48 L266.00,108.90 L267.00,109.31 L268.00,109.72 L269.00,110.13 L270.00,110.54 L271.00,110.94 L272.00,111.35 L273.00,111.75 L274.00,112.15 L275.00,112.55 L276.00,112.95 L277.00,113.35 L278.00,113.74 L279.00,114.14 L280.00,114.53 L281.00,114.92 L282.00,115.31 L283.00,115.70 L284.00,116.09 L285.00,116.48 L286.00,116.86 L287.00,117.25 L288.00,117.63 L289.00,118.01 L290.00,118.39 L291.00,118.76 L292.00,119.14 L293.00,119.52 L294.00,119.89 L295.00,120.26 L296.00,120.63 L297.00,121.00 L298.00,121.37 L299.00,121.73 L300.00,122.10 L301.00,122.46 L302.00,122.82 L303.00,123.19 L304.00,123.54 L305.00,123.90 L306.00,124.26 L307.00,124.61 L308.00,124.97 L309.00,125.32 L310.00,125.67 L311.00,126.02 L312.00,126.37 L313.00,126.71 L314.00,127.06 L315.00,127.40 L316.00,127.74 L317.00,128.09 L318.00,128.42 L319.00,128.76 L320.00,129.10 L321.00,129.43 L322.00,129.77 L322.20,129.83" stroke="#ff0000" stroke-width="1.3" fill="none" stroke-linejoin="round"/>
<path d="M401.60,40.44 L402.60,41.32 L403.60,42.19 L404.60,43.03 L405.60,43.87 L406.60,44.68 L407.60,45.48 L408.60,46.26 L409.60,47.02 L410.60,47.77 L411.60,48.50 L412.60,49.21 L413.60,49.91 L414.60,50.60 L415.60,51.27 L416.60,51.92 L417.60,52.56 L418.60,53.18 L419.60,53.79 L420.60,54.39 L421.60,54.97 L422.60,55.54 L423.60,56.09 L424.60,56.63 L425.60,57.15 L426.60,57.67 L427.60,58.17 L428.60,58.65 L429.60,59.13 L430.60,59.59 L431.60,60.04 L432.60,60.47 L433.60,60.90 L434.60,61.31 L435.60,61.71 L436.60,62.10 L437.60,62.48 L438.60,62.85 L439.60,63.21 L440.60,63.55 L441.60,63.89 L442.60,64.22 L443.60,64.53 L444.60,64.84 L445.60,65.13 L446.60,65.42 L447.60,65.69 L448.60,65.96 L449.60,66.22 L450.60,66.47 L451.60,66.71 L452.60,66.95 L453.60,67.17 L454.60,67.39 L455.60,67.60 L456.60,67.80 L457.60,67.99 L458.60,68.18 L459.60,68.36 L460.60,68.53 L461.60,68.69 L462.60,68.85 L463.60,69.00 L464.60,69.14 L465.60,69.28 L466.60,69.41 L467.60,69.53 L468.60,69.65 L469.60,69.76 L470.60,69.86 L471.60,69.96 L472.60,70.05 L473.60,70.13 L474.60,70.20 L475.60,70.27 L476.60,70.34 L477.60,70.39 L478.60,70.44 L479.60,70.49 L480.60,70.53 L481.60,70.56 L482.60,70.58 L483.60,70.60 L484.60,70.61 L485.60,70.62 L486.60,70.62 L487.60,70.62 L488.60,70.61 L489.60,70.59 L490.60,70.57 L491.60,70.54 L492.60,70.50 L493.60,70.46 L494.60,70.42 L495.60,70.37 L496.60,70.31 L497.60,70.25 L498.60,70.18 L499.60,70.11 L500.60,70.03 L501.60,69.94 L502.60,69.84 L503.60,69.72 L504.60,69.58 L505.60,69.40 L506.60,69.19 L507.60,68.94 L508.60,68.64 L509.60,68.29 L510.60,67.88 L511.60,67.41 L512.30,67.04 L512.50,66.60 L512.50,54.10 L513.00,53.60 L513.80,59.50 L514.40,59.42 L515.40,59.69 L516.40,60.02 L517.40,60.41 L518.40,60.85 L519.40,61.33 L520.40,61.86 L521.40,62.42 L522.40,63.02 L523.40,63.64 L524.40,64.29 L525.40,64.95 L526.40,65.63 L527.40,66.32 L528.40,67.01 L529.40,67.70 L530.40,68.38 L531.40,69.05 L532.40,69.72 L533.40,70.38 L534.40,71.03 L535.40,71.67 L536.40,72.30 L537.40,72.93 L538.40,73.54 L539.40,74.16 L540.40,74.76 L541.40,75.36 L542.40,75.95 L543.40,76.53 L544.40,77.11 L545.40,77.68 L546.40,78.24 L547.40,78.80 L548.40,79.35 L549.40,79.90 L550.40,80.44 L551.40,80.97 L552.40,81.50 L553.40,82.02 L554.40,82.54 L555.40,83.06 L556.40,83.56 L557.40,84.07 L558.40,84.57 L559.40,85.06 L560.40,85.56 L561.40,86.04 L562.40,86.53 L563.40,87.01 L564.40,87.48 L565.40,87.96 L566.40,88.42 L567.40,88.89 L568.40,89.35 L569.40,89.81 L570.40,90.27 L571.40,90.73 L572.40,91.18 L573.40,91.63 L574.40,92.08 L575.40,92.53 L576.40,92.97 L577.40,93.41 L578.40,93.85 L579.40,94.29 L580.40,94.73 L581.40,95.16 L582.40,95.59 L583.40,96.02 L584.40,96.45 L585.40,96.88 L586.40,97.30 L587.40,97.72 L588.40,98.14 L589.40,98.56 L590.40,98.98 L591.40,99.39 L592.40,99.80 L593.40,100.21 L594.40,100.62 L595.40,101.03 L596.40,101.43 L597.40,101.83 L598.40,102.23 L599.40,102.63 L600.40,103.03 L601.40,103.42 L602.40,103.81 L603.40,104.21 L604.40,104.59 L605.40,104.98 L606.40,105.37 L607.40,105.75 L608.40,106.13 L609.40,106.51 L610.40,106.89 L611.40,107.26 L612.40,107.64 L613.40,108.01 L614.40,108.38 L615.40,108.75 L616.40,109.11 L617.40,109.48 L618.40,109.84 L619.40,110.20 L620.40,110.56 L621.40,110.92 L622.40,111.28 L623.40,111.63 L624.40,111.99 L625.40,112.34 L626.40,112.69 L627.40,113.03 L628.40,113.38 L629.40,113.72 L630.40,114.07 L631.40,114.41 L632.40,114.75 L633.40,115.08 L634.40,115.42 L635.40,115.75 L636.40,116.09 L637.40,116.42 L638.40,116.75 L639.40,117.07 L640.40,117.40 L641.40,117.72 L642.40,118.05 L643.40,118.37 L644.40,118.69 L645.40,119.01 L646.40,119.32 L647.40,119.64 L648.40,119.95 L649.40,120.26 L650.40,120.57 L651.40,120.88 L652.40,121.19 L653.40,121.50 L654.40,121.80 L655.40,122.10 L656.40,122.40 L657.40,122.70 L658.40,123.00 L659.40,123.30 L660.40,123.60 L661.40,123.89 L662.40,124.18 L663.40,124.47 L664.40,124.76 L665.40,125.05 L666.40,125.34 L667.40,125.63 L668.40,125.91 L669.40,126.19 L670.40,126.47" stroke="#ff0000" stroke-width="1.3" fill="none" stroke-linejoin="round"/>
<path d="M51.60,110.33 L52.60,111.10 L53.60,111.85 L54.60,112.61 L55.60,113.35 L56.60,114.09 L57.60,114.82 L58.60,115.54 L59.60,116.26 L60.60,116.97 L61.60,117.67 L62.60,118.37 L63.60,119.06 L64.60,119.74 L65.60,120.42 L66.60,121.09 L67.60,121.76 L68.60,122.42 L69.60,123.07 L70.60,123.71 L71.60,124.35 L72.60,124.99 L73.60,125.62 L74.60,126.24 L75.60,126.85 L76.60,127.46 L77.60,128.07 L78.60,128.67 L79.60,129.26 L80.60,129.85 L81.60,130.43 L82.60,131.01 L83.60,131.58 L84.60,132.14 L85.60,132.70 L86.60,133.26 L87.60,133.81 L88.60,134.35 L89.60,134.89 L90.60,135.42 L91.60,135.95 L92.60,136.48 L93.60,136.99 L94.60,137.51 L95.60,138.02 L96.60,138.52 L97.60,139.02 L98.60,139.52 L99.60,140.01 L100.60,140.49 L101.60,140.97 L102.60,141.45 L103.60,141.92 L104.60,142.39 L105.60,142.86 L106.60,143.32 L107.60,143.77 L108.60,144.22 L109.60,144.67 L110.60,145.11 L111.60,145.55 L112.60,145.99 L113.60,146.42 L114.60,146.85 L115.60,147.27 L116.60,147.69 L117.60,148.11 L118.60,148.52 L119.60,148.93 L120.60,149.34 L121.60,149.74 L122.60,150.14 L123.60,150.53 L124.60,150.93 L125.60,151.32 L126.60,151.70 L127.60,152.09 L128.60,152.47 L129.60,152.84 L130.60,153.22 L131.60,153.59 L132.60,153.96 L133.60,154.32 L134.60,154.68 L135.60,155.05 L136.60,155.40 L137.60,155.76 L138.60,156.11 L139.60,156.46 L140.60,156.81 L141.60,157.15 L142.60,157.50 L143.60,157.84 L144.60,158.18 L145.60,158.51 L146.60,158.85 L147.60,159.18 L148.60,159.51 L149.60,159.84 L150.60,160.16 L151.60,160.49 L152.60,160.81 L153.60,161.13 L154.60,161.45 L155.60,161.77 L156.60,162.09 L157.60,162.40 L158.60,162.71 L159.60,163.03 L160.60,163.34 L161.60,163.65 L162.60,163.96 L163.60,164.26 L164.60,164.57 L165.60,164.87 L166.60,165.18 L167.60,165.48 L168.60,165.78 L169.60,166.08 L170.60,166.38 L171.60,166.68 L172.60,166.98 L173.60,167.28 L174.60,167.57 L175.60,167.87 L176.60,168.16 L177.60,168.46 L178.60,168.75 L179.60,169.04 L180.60,169.33 L181.60,169.62 L182.60,169.91 L183.60,170.20 L184.60,170.48 L185.60,170.77 L186.60,171.05 L187.60,171.34 L188.60,171.62 L189.60,171.90 L190.60,172.19 L191.60,172.47 L192.60,172.75 L193.60,173.02 L194.60,173.30 L195.60,173.58 L196.60,173.85 L197.60,174.13 L198.60,174.40 L199.60,174.68 L200.60,174.95 L201.60,175.22 L202.60,175.49 L203.60,175.76 L204.60,176.03 L205.60,176.30 L206.60,176.57 L207.60,176.83 L208.60,177.10 L209.60,177.36 L210.60,177.63 L211.60,177.89 L212.60,178.15 L213.60,178.42 L214.60,178.68 L215.60,178.94 L216.60,179.20 L217.60,179.45 L218.60,179.71 L219.60,179.97 L220.60,180.22 L221.60,180.48 L222.60,180.73 L223.60,180.99 L224.60,181.24 L225.60,181.49 L226.60,181.74 L227.60,181.99 L228.60,182.24 L229.60,182.49 L230.60,182.74 L231.60,182.99 L232.60,183.24 L233.60,183.48 L234.60,183.73 L235.60,183.97 L236.60,184.22 L237.60,184.46 L238.60,184.70 L239.60,184.94 L240.60,185.18 L241.60,185.42 L242.60,185.66 L243.60,185.90 L244.60,186.14 L245.60,186.38 L246.60,186.62 L247.60,186.85 L248.60,187.09 L249.60,187.32 L250.60,187.56 L251.60,187.79 L252.60,188.02 L253.60,188.25 L254.60,188.48 L255.60,188.72 L256.60,188.95 L257.60,189.17 L258.60,189.40 L259.60,189.63 L260.60,189.86 L261.60,190.09 L262.60,190.31 L263.60,190.54 L264.60,190.76 L265.60,190.99 L266.60,191.21 L267.60,191.43 L268.60,191.66 L269.60,191.88 L270.60,192.10 L271.60,192.32 L272.60,192.54 L273.60,192.76 L274.60,192.98 L275.60,193.19 L276.60,193.41 L277.60,193.63 L278.60,193.85 L279.60,194.06 L280.60,194.28 L281.60,194.49 L282.60,194.71 L283.60,194.92 L284.60,195.13 L285.60,195.34 L286.60,195.56 L287.60,195.77 L288.60,195.98 L289.60,196.19 L290.60,196.40 L291.60,196.61 L292.60,196.82 L293.60,197.02 L294.60,197.23 L295.60,197.44 L296.60,197.65 L297.60,197.85 L298.60,198.06 L299.60,198.26 L300.60,198.47 L301.60,198.67 L302.60,198.87 L303.60,199.08 L304.60,199.28 L305.60,199.48 L306.60,199.68 L307.60,199.89 L308.60,200.09 L309.60,200.29 L310.60,200.49 L311.60,200.69 L312.60,200.88 L313.60,201.08 L314.60,201.28 L315.60,201.48 L316.60,201.68 L317.60,201.87 L318.60,202.07 L319.60,202.26 L320.60,202.46 L321.60,202.65 L322.20,202.77" stroke="#0000ff" stroke-width="1.3" fill="none" stroke-linejoin="round"/>
<path d="M401.50,91.20 L402.50,92.18 L403.50,93.14 L404.50,94.09 L405.50,95.01 L406.50,95.91 L407.50,96.80 L408.50,97.67 L409.50,98.52 L410.50,99.36 L411.50,100.17 L412.50,100.98 L413.50,101.77 L414.50,102.54 L415.50,103.30 L416.50,104.05 L417.50,104.78 L418.50,105.50 L419.50,106.21 L420.50,106.91 L421.50,107.59 L422.50,108.27 L423.50,108.94 L424.50,109.60 L425.50,110.24 L426.50,110.89 L427.50,111.52 L428.50,112.14 L429.50,112.76 L430.50,113.37 L431.50,113.97 L432.50,114.57 L433.50,115.16 L434.50,115.74 L435.50,116.31 L436.50,116.87 L437.50,117.43 L438.50,117.99 L439.50,118.53 L440.50,119.07 L441.50,119.60 L442.50,120.13 L443.50,120.64 L444.50,121.16 L445.50,121.66 L446.50,122.16 L447.50,122.66 L448.50,123.14 L449.50,123.63 L450.50,124.10 L451.50,124.57 L452.50,125.04 L453.50,125.49 L454.50,125.95 L455.50,126.40 L456.50,126.84 L457.50,127.28 L458.50,127.71 L459.50,128.13 L460.50,128.56 L461.50,128.97 L462.50,129.39 L463.50,129.79 L464.50,130.20 L465.50,130.59 L466.50,130.99 L467.50,131.38 L468.50,131.76 L469.50,132.14 L470.50,132.52 L471.50,132.89 L472.50,133.26 L473.50,133.63 L474.50,133.99 L475.50,134.35 L476.50,134.70 L477.50,135.05 L478.50,135.40 L479.50,135.74 L480.50,136.08 L481.50,136.42 L482.50,136.75 L483.50,137.08 L484.50,137.41 L485.50,137.74 L486.50,138.06 L487.50,138.38 L488.50,138.70 L489.50,139.01 L490.50,139.33 L491.50,139.64 L492.50,139.94 L493.50,140.25 L494.50,140.56 L495.50,140.86 L496.50,141.16 L497.50,141.46 L498.50,141.75 L499.50,142.05 L500.50,142.34 L501.50,142.63 L502.50,142.93 L503.50,143.22 L504.50,143.50 L505.50,143.79 L506.50,144.08 L507.50,144.36 L508.50,144.65 L509.50,144.93 L510.50,145.22 L511.50,145.50 L512.50,145.78 L513.50,146.06 L514.50,146.34 L515.50,146.62 L516.50,146.90 L517.50,147.18 L518.50,147.46 L519.50,147.73 L520.50,148.01 L521.50,148.28 L522.50,148.56 L523.50,148.83 L524.50,149.11 L525.50,149.38 L526.50,149.65 L527.50,149.92 L528.50,150.19 L529.50,150.46 L530.50,150.73 L531.50,150.99 L532.50,151.26 L533.50,151.53 L534.50,151.79 L535.50,152.06 L536.50,152.32 L537.50,152.58 L538.50,152.85 L539.50,153.11 L540.50,153.37 L541.50,153.63 L542.50,153.89 L543.50,154.14 L544.50,154.40 L545.50,154.66 L546.50,154.92 L547.50,155.17 L548.50,155.43 L549.50,155.68 L550.50,155.93 L551.50,156.19 L552.50,156.44 L553.50,156.69 L554.50,156.94 L555.50,157.19 L556.50,157.44 L557.50,157.68 L558.50,157.93 L559.50,158.18 L560.50,158.42 L561.50,158.67 L562.50,158.91 L563.50,159.16 L564.50,159.40 L565.50,159.64 L566.50,159.88 L567.50,160.12 L568.50,160.36 L569.50,160.60 L570.50,160.84 L571.50,161.08 L572.50,161.31 L573.50,161.55 L574.50,161.79 L575.50,162.02 L576.50,162.25 L577.50,162.49 L578.50,162.72 L579.50,162.95 L580.50,163.18 L581.50,163.41 L582.50,163.64 L583.50,163.87 L584.50,164.10 L585.50,164.32 L586.50,164.55 L587.50,164.78 L588.50,165.00 L589.50,165.22 L590.50,165.45 L591.50,165.67 L592.50,165.89 L593.50,166.11 L594.50,166.33 L595.50,166.55 L596.50,166.77 L597.50,166.99 L598.50,167.21 L599.50,167.42 L600.50,167.64 L601.50,167.85 L602.50,168.07 L603.50,168.28 L604.50,168.50 L605.50,168.71 L606.50,168.92 L607.50,169.13 L608.50,169.34 L609.50,169.55 L610.50,169.76 L611.50,169.96 L612.50,170.17 L613.50,170.38 L614.50,170.58 L615.50,170.79 L616.50,170.99 L617.50,171.20 L618.50,171.40 L619.50,171.60 L620.50,171.80 L621.50,172.00 L622.50,172.20 L623.50,172.40 L624.50,172.60 L625.50,172.79 L626.50,172.99 L627.50,173.19 L628.50,173.38 L629.50,173.58 L630.50,173.77 L631.50,173.96 L632.50,174.15 L633.50,174.35 L634.50,174.54 L635.50,174.73 L636.50,174.92 L637.50,175.10 L638.50,175.29 L639.50,175.48 L640.50,175.67 L641.50,175.85 L642.50,176.04 L643.50,176.22 L644.50,176.40 L645.50,176.59 L646.50,176.77 L647.50,176.95 L648.50,177.13 L649.50,177.31 L650.50,177.49 L651.50,177.67 L652.50,177.84 L653.50,178.02 L654.50,178.20 L655.50,178.37 L656.50,178.55 L657.50,178.72 L658.50,178.89 L659.50,179.07 L660.50,179.24 L661.50,179.41 L662.50,179.58 L663.50,179.75 L664.50,179.92 L665.50,180.08 L666.50,180.25 L667.50,180.42 L668.50,180.58 L669.50,180.75 L670.40,180.90" stroke="#0000ff" stroke-width="1.3" fill="none" stroke-linejoin="round"/>
<rect x="51.5" y="7.5" width="271.00" height="199.00" fill="none" stroke="#3a3a3a" stroke-width="0.75"/>
<rect x="401.5" y="7.5" width="269.00" height="198.00" fill="none" stroke="#3a3a3a" stroke-width="0.75"/>
<path d="M67.50,206.50v-3.5 M99.50,206.50v-1.8 M131.50,206.50v-3.5 M162.50,206.50v-1.8 M194.50,206.50v-3.5 M226.50,206.50v-1.8 M258.50,206.50v-3.5 M290.50,206.50v-1.8 M322.50,206.50v-3.5 M51.50,198.50h1.8 M322.50,198.50h-1.8 M51.50,194.50h1.8 M322.50,194.50h-1.8 M51.50,191.50h1.8 M322.50,191.50h-1.8 M51.50,188.50h1.8 M322.50,188.50h-1.8 M51.50,186.50h1.8 M322.50,186.50h-1.8 M51.50,185.50h1.8 M322.50,185.50h-1.8 M51.50,183.50h1.8 M322.50,183.50h-1.8 M51.50,182.50h1.8 M322.50,182.50h-1.8 M51.50,181.50h3.5 M322.50,181.50h-3.5 M51.50,174.50h1.8 M322.50,174.50h-1.8 M51.50,169.50h1.8 M322.50,169.50h-1.8 M51.50,166.50h1.8 M322.50,166.50h-1.8 M51.50,164.50h1.8 M322.50,164.50h-1.8 M51.50,162.50h1.8 M322.50,162.50h-1.8 M51.50,160.50h1.8 M322.50,160.50h-1.8 M51.50,159.50h1.8 M322.50,159.50h-1.8 M51.50,157.50h1.8 M322.50,157.50h-1.8 M51.50,156.50h3.5 M322.50,156.50h-3.5 M51.50,149.50h1.8 M322.50,149.50h-1.8 M51.50,144.50h1.8 M322.50,144.50h-1.8 M51.50,141.50h1.8 M322.50,141.50h-1.8 M51.50,139.50h1.8 M322.50,139.50h-1.8 M51.50,137.50h1.8 M322.50,137.50h-1.8 M51.50,135.50h1.8 M322.50,135.50h-1.8 M51.50,134.50h1.8 M322.50,134.50h-1.8 M51.50,132.50h1.8 M322.50,132.50h-1.8 M51.50,131.50h3.5 M322.50,131.50h-3.5 M51.50,124.50h1.8 M322.50,124.50h-1.8 M51.50,119.50h1.8 M322.50,119.50h-1.8 M51.50,116.50h1.8 M322.50,116.50h-1.8 M51.50,114.50h1.8 M322.50,114.50h-1.8 M51.50,112.50h1.8 M322.50,112.50h-1.8 M51.50,110.50h1.8 M322.50,110.50h-1.8 M51.50,109.50h1.8 M322.50,109.50h-1.8 M51.50,108.50h1.8 M322.50,108.50h-1.8 M51.50,107.50h3.5 M322.50,107.50h-3.5 M51.50,99.50h1.8 M322.50,99.50h-1.8 M51.50,95.50h1.8 M322.50,95.50h-1.8 M51.50,92.50h1.8 M322.50,92.50h-1.8 M51.50,89.50h1.8 M322.50,89.50h-1.8 M51.50,87.50h1.8 M322.50,87.50h-1.8 M51.50,86.50h1.8 M322.50,86.50h-1.8 M51.50,84.50h1.8 M322.50,84.50h-1.8 M51.50,83.50h1.8 M322.50,83.50h-1.8 M51.50,82.50h3.5 M322.50,82.50h-3.5 M51.50,74.50h1.8 M322.50,74.50h-1.8 M51.50,70.50h1.8 M322.50,70.50h-1.8 M51.50,67.50h1.8 M322.50,67.50h-1.8 M51.50,64.50h1.8 M322.50,64.50h-1.8 M51.50,62.50h1.8 M322.50,62.50h-1.8 M51.50,61.50h1.8 M322.50,61.50h-1.8 M51.50,59.50h1.8 M322.50,59.50h-1.8 M51.50,58.50h1.8 M322.50,58.50h-1.8 M51.50,57.50h3.5 M322.50,57.50h-3.5 M51.50,49.50h1.8 M322.50,49.50h-1.8 M51.50,45.50h1.8 M322.50,45.50h-1.8 M51.50,42.50h1.8 M322.50,42.50h-1.8 M51.50,39.50h1.8 M322.50,39.50h-1.8 M51.50,38.50h1.8 M322.50,38.50h-1.8 M51.50,36.50h1.8 M322.50,36.50h-1.8 M51.50,34.50h1.8 M322.50,34.50h-1.8 M51.50,33.50h1.8 M322.50,33.50h-1.8 M51.50,32.50h3.5 M322.50,32.50h-3.5 M51.50,25.50h1.8 M322.50,25.50h-1.8 M51.50,20.50h1.8 M322.50,20.50h-1.8 M51.50,17.50h1.8 M322.50,17.50h-1.8 M51.50,15.50h1.8 M322.50,15.50h-1.8 M51.50,13.50h1.8 M322.50,13.50h-1.8 M51.50,11.50h1.8 M322.50,11.50h-1.8 M51.50,10.50h1.8 M322.50,10.50h-1.8 M51.50,8.50h1.8 M322.50,8.50h-1.8" stroke="#000" stroke-width="0.7" fill="none"/>
<path d="M417.50,205.50v-3.5 M448.50,205.50v-1.8 M480.50,205.50v-3.5 M512.50,205.50v-1.8 M543.50,205.50v-3.5 M575.50,205.50v-1.8 M607.50,205.50v-3.5 M638.50,205.50v-1.8 M670.50,205.50v-3.5 M401.50,198.50h1.8 M670.50,198.50h-1.8 M401.50,194.50h1.8 M670.50,194.50h-1.8 M401.50,192.50h1.8 M670.50,192.50h-1.8 M401.50,190.50h1.8 M670.50,190.50h-1.8 M401.50,188.50h1.8 M670.50,188.50h-1.8 M401.50,186.50h1.8 M670.50,186.50h-1.8 M401.50,185.50h1.8 M670.50,185.50h-1.8 M401.50,184.50h1.8 M670.50,184.50h-1.8 M401.50,183.50h3.5 M670.50,183.50h-3.5 M401.50,176.50h1.8 M670.50,176.50h-1.8 M401.50,172.50h1.8 M670.50,172.50h-1.8 M401.50,170.50h1.8 M670.50,170.50h-1.8 M401.50,168.50h1.8 M670.50,168.50h-1.8 M401.50,166.50h1.8 M670.50,166.50h-1.8 M401.50,164.50h1.8 M670.50,164.50h-1.8 M401.50,163.50h1.8 M670.50,163.50h-1.8 M401.50,162.50h1.8 M670.50,162.50h-1.8 M401.50,161.50h3.5 M670.50,161.50h-3.5 M401.50,154.50h1.8 M670.50,154.50h-1.8 M401.50,151.50h1.8 M670.50,151.50h-1.8 M401.50,148.50h1.8 M670.50,148.50h-1.8 M401.50,146.50h1.8 M670.50,146.50h-1.8 M401.50,144.50h1.8 M670.50,144.50h-1.8 M401.50,142.50h1.8 M670.50,142.50h-1.8 M401.50,141.50h1.8 M670.50,141.50h-1.8 M401.50,140.50h1.8 M670.50,140.50h-1.8 M401.50,139.50h3.5 M670.50,139.50h-3.5 M401.50,132.50h1.8 M670.50,132.50h-1.8 M401.50,129.50h1.8 M670.50,129.50h-1.8 M401.50,126.50h1.8 M670.50,126.50h-1.8 M401.50,124.50h1.8 M670.50,124.50h-1.8 M401.50,122.50h1.8 M670.50,122.50h-1.8 M401.50,120.50h1.8 M670.50,120.50h-1.8 M401.50,119.50h1.8 M670.50,119.50h-1.8 M401.50,118.50h1.8 M670.50,118.50h-1.8 M401.50,117.50h3.5 M670.50,117.50h-3.5 M401.50,110.50h1.8 M670.50,110.50h-1.8 M401.50,107.50h1.8 M670.50,107.50h-1.8 M401.50,104.50h1.8 M670.50,104.50h-1.8 M401.50,102.50h1.8 M670.50,102.50h-1.8 M401.50,100.50h1.8 M670.50,100.50h-1.8 M401.50,99.50h1.8 M670.50,99.50h-1.8 M401.50,97.50h1.8 M670.50,97.50h-1.8 M401.50,96.50h1.8 M670.50,96.50h-1.8 M401.50,95.50h3.5 M670.50,95.50h-3.5 M401.50,89.50h1.8 M670.50,89.50h-1.8 M401.50,85.50h1.8 M670.50,85.50h-1.8 M401.50,82.50h1.8 M670.50,82.50h-1.8 M401.50,80.50h1.8 M670.50,80.50h-1.8 M401.50,78.50h1.8 M670.50,78.50h-1.8 M401.50,77.50h1.8 M670.50,77.50h-1.8 M401.50,75.50h1.8 M670.50,75.50h-1.8 M401.50,74.50h1.8 M670.50,74.50h-1.8 M401.50,73.50h3.5 M670.50,73.50h-3.5 M401.50,67.50h1.8 M670.50,67.50h-1.8 M401.50,63.50h1.8 M670.50,63.50h-1.8 M401.50,60.50h1.8 M670.50,60.50h-1.8 M401.50,58.50h1.8 M670.50,58.50h-1.8 M401.50,56.50h1.8 M670.50,56.50h-1.8 M401.50,55.50h1.8 M670.50,55.50h-1.8 M401.50,53.50h1.8 M670.50,53.50h-1.8 M401.50,52.50h1.8 M670.50,52.50h-1.8 M401.50,51.50h3.5 M670.50,51.50h-3.5 M401.50,45.50h1.8 M670.50,45.50h-1.8 M401.50,41.50h1.8 M670.50,41.50h-1.8 M401.50,38.50h1.8 M670.50,38.50h-1.8 M401.50,36.50h1.8 M670.50,36.50h-1.8 M401.50,34.50h1.8 M670.50,34.50h-1.8 M401.50,33.50h1.8 M670.50,33.50h-1.8 M401.50,31.50h1.8 M670.50,31.50h-1.8 M401.50,30.50h1.8 M670.50,30.50h-1.8 M401.50,29.50h3.5 M670.50,29.50h-3.5 M401.50,23.50h1.8 M670.50,23.50h-1.8 M401.50,19.50h1.8 M670.50,19.50h-1.8 M401.50,16.50h1.8 M670.50,16.50h-1.8 M401.50,14.50h1.8 M670.50,14.50h-1.8 M401.50,12.50h1.8 M670.50,12.50h-1.8 M401.50,11.50h1.8 M670.50,11.50h-1.8 M401.50,9.50h1.8 M670.50,9.50h-1.8 M401.50,8.50h1.8 M670.50,8.50h-1.8" stroke="#000" stroke-width="0.7" fill="none"/>
<text class="t" transform="translate(23.66,210.85) scale(0.950,1.000)" x="-3.71" style="font-size:12.72px">1</text><text class="t" transform="translate(31.18,210.85) scale(0.994,1.000)" x="-3.54" style="font-size:12.72px">0</text><text class="t" transform="translate(38.99,206.58) scale(1.216,1.000)" x="-2.60" style="font-size:8.90px">−</text><text class="t" transform="translate(45.18,206.58) scale(1.005,1.000)" x="-2.48" style="font-size:8.90px">8</text>
<text class="t" transform="translate(23.66,186.03) scale(0.950,1.000)" x="-3.71" style="font-size:12.72px">1</text><text class="t" transform="translate(31.18,186.03) scale(0.994,1.000)" x="-3.54" style="font-size:12.72px">0</text><text class="t" transform="translate(38.99,181.75) scale(1.216,1.000)" x="-2.60" style="font-size:8.90px">−</text><text class="t" transform="translate(45.16,181.75) scale(0.973,1.000)" x="-2.48" style="font-size:8.90px">7</text>
<text class="t" transform="translate(23.66,161.20) scale(0.950,1.000)" x="-3.71" style="font-size:12.72px">1</text><text class="t" transform="translate(31.18,161.20) scale(0.994,1.000)" x="-3.54" style="font-size:12.72px">0</text><text class="t" transform="translate(38.99,156.93) scale(1.216,1.000)" x="-2.60" style="font-size:8.90px">−</text><text class="t" transform="translate(45.21,156.93) scale(1.029,1.000)" x="-2.51" style="font-size:8.90px">6</text>
<text class="t" transform="translate(23.66,136.38) scale(0.950,1.000)" x="-3.71" style="font-size:12.72px">1</text><text class="t" transform="translate(31.18,136.38) scale(0.994,1.000)" x="-3.54" style="font-size:12.72px">0</text><text class="t" transform="translate(38.99,132.10) scale(1.216,1.000)" x="-2.60" style="font-size:8.90px">−</text><text class="t" transform="translate(45.13,132.10) scale(0.939,1.000)" x="-2.47" style="font-size:8.90px">5</text>
<text class="t" transform="translate(23.66,111.55) scale(0.950,1.000)" x="-3.71" style="font-size:12.72px">1</text><text class="t" transform="translate(31.18,111.55) scale(0.994,1.000)" x="-3.54" style="font-size:12.72px">0</text><text class="t" transform="translate(38.99,107.28) scale(1.216,1.000)" x="-2.60" style="font-size:8.90px">−</text><text class="t" transform="translate(45.15,107.28) scale(0.995,1.000)" x="-2.45" style="font-size:8.90px">4</text>
<text class="t" transform="translate(23.66,86.73) scale(0.950,1.000)" x="-3.71" style="font-size:12.72px">1</text><text class="t" transform="translate(31.18,86.73) scale(0.994,1.000)" x="-3.54" style="font-size:12.72px">0</text><text class="t" transform="translate(38.99,82.45) scale(1.216,1.000)" x="-2.60" style="font-size:8.90px">−</text><text class="t" transform="translate(45.16,82.45) scale(0.955,1.000)" x="-2.45" style="font-size:8.90px">3</text>
<text class="t" transform="translate(23.66,61.90) scale(0.950,1.000)" x="-3.71" style="font-size:12.72px">1</text><text class="t" transform="translate(31.18,61.90) scale(0.994,1.000)" x="-3.54" style="font-size:12.72px">0</text><text class="t" transform="translate(38.99,57.63) scale(1.216,1.000)" x="-2.60" style="font-size:8.90px">−</text><text class="t" transform="translate(45.07,57.63) scale(0.959,1.000)" x="-2.48" style="font-size:8.90px">2</text>
<text class="t" transform="translate(23.66,37.08) scale(0.950,1.000)" x="-3.71" style="font-size:12.72px">1</text><text class="t" transform="translate(31.18,37.08) scale(0.994,1.000)" x="-3.54" style="font-size:12.72px">0</text><text class="t" transform="translate(38.99,32.80) scale(1.216,1.000)" x="-2.60" style="font-size:8.90px">−</text><text class="t" transform="translate(45.25,32.80) scale(0.950,1.000)" x="-2.60" style="font-size:8.90px">1</text>
<text class="t" transform="translate(30.69,12.25) scale(0.950,1.000)" x="-3.71" style="font-size:12.72px">1</text><text class="t" transform="translate(38.22,12.25) scale(0.994,1.000)" x="-3.54" style="font-size:12.72px">0</text><text class="t" transform="translate(45.18,7.98) scale(0.994,1.000)" x="-2.48" style="font-size:8.90px">0</text>
<text class="t" transform="translate(373.96,209.95) scale(0.950,1.000)" x="-3.71" style="font-size:12.72px">1</text><text class="t" transform="translate(381.48,209.95) scale(0.994,1.000)" x="-3.54" style="font-size:12.72px">0</text><text class="t" transform="translate(389.29,205.68) scale(1.216,1.000)" x="-2.60" style="font-size:8.90px">−</text><text class="t" transform="translate(395.48,205.68) scale(1.005,1.000)" x="-2.48" style="font-size:8.90px">8</text>
<text class="t" transform="translate(373.96,187.99) scale(0.950,1.000)" x="-3.71" style="font-size:12.72px">1</text><text class="t" transform="translate(381.48,187.99) scale(0.994,1.000)" x="-3.54" style="font-size:12.72px">0</text><text class="t" transform="translate(389.29,183.72) scale(1.216,1.000)" x="-2.60" style="font-size:8.90px">−</text><text class="t" transform="translate(395.46,183.72) scale(0.973,1.000)" x="-2.48" style="font-size:8.90px">7</text>
<text class="t" transform="translate(373.96,166.04) scale(0.950,1.000)" x="-3.71" style="font-size:12.72px">1</text><text class="t" transform="translate(381.48,166.04) scale(0.994,1.000)" x="-3.54" style="font-size:12.72px">0</text><text class="t" transform="translate(389.29,161.77) scale(1.216,1.000)" x="-2.60" style="font-size:8.90px">−</text><text class="t" transform="translate(395.51,161.77) scale(1.029,1.000)" x="-2.51" style="font-size:8.90px">6</text>
<text class="t" transform="translate(373.96,144.08) scale(0.950,1.000)" x="-3.71" style="font-size:12.72px">1</text><text class="t" transform="translate(381.48,144.08) scale(0.994,1.000)" x="-3.54" style="font-size:12.72px">0</text><text class="t" transform="translate(389.29,139.81) scale(1.216,1.000)" x="-2.60" style="font-size:8.90px">−</text><text class="t" transform="translate(395.43,139.81) scale(0.939,1.000)" x="-2.47" style="font-size:8.90px">5</text>
<text class="t" transform="translate(373.96,122.13) scale(0.950,1.000)" x="-3.71" style="font-size:12.72px">1</text><text class="t" transform="translate(381.48,122.13) scale(0.994,1.000)" x="-3.54" style="font-size:12.72px">0</text><text class="t" transform="translate(389.29,117.86) scale(1.216,1.000)" x="-2.60" style="font-size:8.90px">−</text><text class="t" transform="translate(395.45,117.86) scale(0.995,1.000)" x="-2.45" style="font-size:8.90px">4</text>
<text class="t" transform="translate(373.96,100.17) scale(0.950,1.000)" x="-3.71" style="font-size:12.72px">1</text><text class="t" transform="translate(381.48,100.17) scale(0.994,1.000)" x="-3.54" style="font-size:12.72px">0</text><text class="t" transform="translate(389.29,95.90) scale(1.216,1.000)" x="-2.60" style="font-size:8.90px">−</text><text class="t" transform="translate(395.46,95.90) scale(0.955,1.000)" x="-2.45" style="font-size:8.90px">3</text>
<text class="t" transform="translate(373.96,78.22) scale(0.950,1.000)" x="-3.71" style="font-size:12.72px">1</text><text class="t" transform="translate(381.48,78.22) scale(0.994,1.000)" x="-3.54" style="font-size:12.72px">0</text><text class="t" transform="translate(389.29,73.94) scale(1.216,1.000)" x="-2.60" style="font-size:8.90px">−</text><text class="t" transform="translate(395.37,73.94) scale(0.959,1.000)" x="-2.48" style="font-size:8.90px">2</text>
<text class="t" transform="translate(373.96,56.26) scale(0.950,1.000)" x="-3.71" style="font-size:12.72px">1</text><text class="t" transform="translate(381.48,56.26) scale(0.994,1.000)" x="-3.54" style="font-size:12.72px">0</text><text class="t" transform="translate(389.29,51.99) scale(1.216,1.000)" x="-2.60" style="font-size:8.90px">−</text><text class="t" transform="translate(395.55,51.99) scale(0.950,1.000)" x="-2.60" style="font-size:8.90px">1</text>
<text class="t" transform="translate(380.99,34.31) scale(0.950,1.000)" x="-3.71" style="font-size:12.72px">1</text><text class="t" transform="translate(388.52,34.31) scale(0.994,1.000)" x="-3.54" style="font-size:12.72px">0</text><text class="t" transform="translate(395.48,30.03) scale(0.994,1.000)" x="-2.48" style="font-size:8.90px">0</text>
<text class="t" transform="translate(380.99,12.35) scale(0.950,1.000)" x="-3.71" style="font-size:12.72px">1</text><text class="t" transform="translate(388.52,12.35) scale(0.994,1.000)" x="-3.54" style="font-size:12.72px">0</text><text class="t" transform="translate(395.55,8.08) scale(0.950,1.000)" x="-2.60" style="font-size:8.90px">1</text>
<text class="t" transform="translate(59.63,218.65) scale(0.959,1.000)" x="-3.54" style="font-size:12.72px">2</text><text class="t" transform="translate(67.42,218.65) scale(0.994,1.000)" x="-3.54" style="font-size:12.72px">0</text><text class="t" transform="translate(75.06,218.65) scale(0.994,1.000)" x="-3.54" style="font-size:12.72px">0</text>
<text class="t" transform="translate(123.44,218.65) scale(0.995,1.000)" x="-3.50" style="font-size:12.72px">4</text><text class="t" transform="translate(131.11,218.65) scale(0.994,1.000)" x="-3.54" style="font-size:12.72px">0</text><text class="t" transform="translate(138.75,218.65) scale(0.994,1.000)" x="-3.54" style="font-size:12.72px">0</text>
<text class="t" transform="translate(187.22,218.65) scale(1.029,1.000)" x="-3.58" style="font-size:12.72px">6</text><text class="t" transform="translate(194.81,218.65) scale(0.994,1.000)" x="-3.54" style="font-size:12.72px">0</text><text class="t" transform="translate(202.44,218.65) scale(0.994,1.000)" x="-3.54" style="font-size:12.72px">0</text>
<text class="t" transform="translate(250.87,218.65) scale(1.005,1.000)" x="-3.54" style="font-size:12.72px">8</text><text class="t" transform="translate(258.50,218.65) scale(0.994,1.000)" x="-3.54" style="font-size:12.72px">0</text><text class="t" transform="translate(266.14,218.65) scale(0.994,1.000)" x="-3.54" style="font-size:12.72px">0</text>
<text class="t" transform="translate(310.85,218.65) scale(0.950,1.000)" x="-3.71" style="font-size:12.72px">1</text><text class="t" transform="translate(318.38,218.65) scale(0.994,1.000)" x="-3.54" style="font-size:12.72px">0</text><text class="t" transform="translate(326.01,218.65) scale(0.994,1.000)" x="-3.54" style="font-size:12.72px">0</text><text class="t" transform="translate(333.65,218.65) scale(0.994,1.000)" x="-3.54" style="font-size:12.72px">0</text>
<text class="t" transform="translate(409.52,217.50) scale(0.959,1.000)" x="-3.54" style="font-size:12.72px">2</text><text class="t" transform="translate(417.31,217.50) scale(0.994,1.000)" x="-3.54" style="font-size:12.72px">0</text><text class="t" transform="translate(424.95,217.50) scale(0.994,1.000)" x="-3.54" style="font-size:12.72px">0</text>
<text class="t" transform="translate(472.91,217.50) scale(0.995,1.000)" x="-3.50" style="font-size:12.72px">4</text><text class="t" transform="translate(480.59,217.50) scale(0.994,1.000)" x="-3.54" style="font-size:12.72px">0</text><text class="t" transform="translate(488.22,217.50) scale(0.994,1.000)" x="-3.54" style="font-size:12.72px">0</text>
<text class="t" transform="translate(536.27,217.50) scale(1.029,1.000)" x="-3.58" style="font-size:12.72px">6</text><text class="t" transform="translate(543.86,217.50) scale(0.994,1.000)" x="-3.54" style="font-size:12.72px">0</text><text class="t" transform="translate(551.49,217.50) scale(0.994,1.000)" x="-3.54" style="font-size:12.72px">0</text>
<text class="t" transform="translate(599.49,217.50) scale(1.005,1.000)" x="-3.54" style="font-size:12.72px">8</text><text class="t" transform="translate(607.13,217.50) scale(0.994,1.000)" x="-3.54" style="font-size:12.72px">0</text><text class="t" transform="translate(614.76,217.50) scale(0.994,1.000)" x="-3.54" style="font-size:12.72px">0</text>
<text class="t" transform="translate(659.05,217.50) scale(0.950,1.000)" x="-3.71" style="font-size:12.72px">1</text><text class="t" transform="translate(666.58,217.50) scale(0.994,1.000)" x="-3.54" style="font-size:12.72px">0</text><text class="t" transform="translate(674.21,217.50) scale(0.994,1.000)" x="-3.54" style="font-size:12.72px">0</text><text class="t" transform="translate(681.85,217.50) scale(0.994,1.000)" x="-3.54" style="font-size:12.72px">0</text>
<text class="a" transform="translate(62.72,34.40) scale(0.951,1.000)" x="-4.82" style="font-size:14.41px;font-weight:bold;font-style:italic">S</text><text class="a" transform="translate(70.50,34.40) scale(1.098,1.000)" x="-2.25" style="font-size:14.41px;font-weight:bold;font-style:italic">i</text><text class="a" transform="translate(77.19,34.40) scale(1.065,1.000)" x="-4.22" style="font-size:14.41px;font-weight:bold;font-style:italic">n</text><text class="a" transform="translate(86.99,34.40) scale(1.046,1.000)" x="-4.25" style="font-size:14.41px;font-weight:bold;font-style:italic">g</text><text class="a" transform="translate(94.56,34.40) scale(1.098,1.000)" x="-2.25" style="font-size:14.41px;font-weight:bold;font-style:italic">l</text><text class="a" transform="translate(101.20,34.40) scale(1.145,1.000)" x="-4.03" style="font-size:14.41px;font-weight:bold;font-style:italic">e</text><text class="a" transform="translate(109.57,34.40) scale(1.351,1.000)" x="-2.95" style="font-size:14.41px;font-weight:bold;font-style:italic">t</text><text class="a" transform="translate(113.83,34.40) scale(1.354,1.000)" x="-1.32" style="font-size:14.41px;font-weight:bold;font-style:italic">,</text>
<text class="a" transform="translate(127.54,34.50) scale(0.995,1.000)" x="-4.10" style="font-size:14.93px">4</text><text class="a" transform="translate(136.65,34.50) scale(0.971,1.000)" x="-4.51" style="font-size:14.93px">L</text><text class="a" transform="translate(151.41,34.50) scale(0.959,1.000)" x="-7.52" style="font-size:14.93px">@</text><text class="a" transform="translate(163.05,34.50) scale(0.971,1.000)" x="-4.51" style="font-size:14.93px">L</text><text class="a" transform="translate(171.61,34.50) scale(0.938,1.000)" x="-5.39" style="font-size:14.93px">H</text><text class="a" transform="translate(181.84,34.50) scale(0.876,1.000)" x="-5.48" style="font-size:14.93px">C</text><text class="a" transform="translate(195.82,34.50) scale(0.950,1.000)" x="-4.35" style="font-size:14.93px">1</text><text class="a" transform="translate(204.63,34.50) scale(0.955,1.000)" x="-4.11" style="font-size:14.93px">3</text><text class="a" transform="translate(217.91,34.50) scale(1.029,1.000)" x="-4.56" style="font-size:14.93px">T</text><text class="a" transform="translate(224.17,34.50) scale(1.019,1.000)" x="-4.14" style="font-size:14.93px">e</text><text class="a" transform="translate(233.30,34.50) scale(0.957,1.000)" x="-4.98" style="font-size:14.93px">V</text>
<text class="a" transform="translate(413.52,31.70) scale(1.067,1.000)" x="-5.14" style="font-size:14.45px;font-weight:bold;font-style:italic">D</text><text class="a" transform="translate(424.02,31.70) scale(1.059,1.000)" x="-4.40" style="font-size:14.45px;font-weight:bold;font-style:italic">o</text><text class="a" transform="translate(433.75,31.70) scale(1.062,1.000)" x="-4.59" style="font-size:14.45px;font-weight:bold;font-style:italic">u</text><text class="a" transform="translate(443.23,31.70) scale(1.079,1.000)" x="-4.33" style="font-size:14.45px;font-weight:bold;font-style:italic">b</text><text class="a" transform="translate(450.79,31.70) scale(1.098,1.000)" x="-2.25" style="font-size:14.45px;font-weight:bold;font-style:italic">l</text><text class="a" transform="translate(457.46,31.70) scale(1.145,1.000)" x="-4.04" style="font-size:14.45px;font-weight:bold;font-style:italic">e</text><text class="a" transform="translate(465.85,31.70) scale(1.351,1.000)" x="-2.96" style="font-size:14.45px;font-weight:bold;font-style:italic">t</text><text class="a" transform="translate(470.12,31.70) scale(1.354,1.000)" x="-1.32" style="font-size:14.45px;font-weight:bold;font-style:italic">,</text>
<text class="a" transform="translate(483.83,31.30) scale(0.995,1.000)" x="-4.09" style="font-size:14.89px">4</text><text class="a" transform="translate(492.91,31.30) scale(0.971,1.000)" x="-4.50" style="font-size:14.89px">L</text><text class="a" transform="translate(507.63,31.30) scale(0.959,1.000)" x="-7.50" style="font-size:14.89px">@</text><text class="a" transform="translate(519.25,31.30) scale(0.971,1.000)" x="-4.50" style="font-size:14.89px">L</text><text class="a" transform="translate(527.79,31.30) scale(0.938,1.000)" x="-5.38" style="font-size:14.89px">H</text><text class="a" transform="translate(537.98,31.30) scale(0.876,1.000)" x="-5.47" style="font-size:14.89px">C</text><text class="a" transform="translate(551.93,31.30) scale(0.950,1.000)" x="-4.34" style="font-size:14.89px">1</text><text class="a" transform="translate(560.71,31.30) scale(0.955,1.000)" x="-4.10" style="font-size:14.89px">3</text><text class="a" transform="translate(573.96,31.30) scale(1.029,1.000)" x="-4.54" style="font-size:14.89px">T</text><text class="a" transform="translate(580.20,31.30) scale(1.019,1.000)" x="-4.13" style="font-size:14.89px">e</text><text class="a" transform="translate(589.31,31.30) scale(0.957,1.000)" x="-4.96" style="font-size:14.89px">V</text>
<text class="a" transform="translate(164.52,237.55) scale(0.951,1.000)" x="-5.68" style="font-size:13.15px;font-style:italic">M</text><text class="a" transform="translate(172.54,239.59) scale(0.843,1.000)" x="-3.17" style="font-size:9.21px;font-style:italic">F</text><text class="a" transform="translate(181.50,236.72) scale(0.983,0.902)" x="-2.24" style="font-size:13.15px">[</text><text class="a" transform="translate(188.64,237.55) scale(0.920,1.000)" x="-4.95" style="font-size:13.15px">G</text><text class="a" transform="translate(197.43,237.55) scale(1.019,1.000)" x="-3.64" style="font-size:13.15px">e</text><text class="a" transform="translate(205.48,237.55) scale(0.957,1.000)" x="-4.39" style="font-size:13.15px">V</text><text class="a" transform="translate(212.22,236.72) scale(0.983,0.902)" x="-1.41" style="font-size:13.15px">]</text>
<text class="a" transform="translate(510.95,237.90) scale(0.951,1.000)" x="-6.28" style="font-size:14.54px;font-style:italic">M</text><text class="a" transform="translate(519.81,240.15) scale(0.843,1.000)" x="-3.50" style="font-size:10.18px;font-style:italic">F</text><text class="a" transform="translate(529.72,236.99) scale(0.983,0.902)" x="-2.48" style="font-size:14.54px">[</text><text class="a" transform="translate(537.61,237.90) scale(0.920,1.000)" x="-5.48" style="font-size:14.54px">G</text><text class="a" transform="translate(547.34,237.90) scale(1.019,1.000)" x="-4.03" style="font-size:14.54px">e</text><text class="a" transform="translate(556.23,237.90) scale(0.957,1.000)" x="-4.85" style="font-size:14.54px">V</text><text class="a" transform="translate(563.68,236.99) scale(0.983,0.902)" x="-1.56" style="font-size:14.54px">]</text>
<g transform="rotate(-90)"><text class="a" transform="translate(-121.92,9.80) scale(0.960,1.000)" x="-4.38" style="font-size:13.12px;font-style:italic">σ</text><text class="a" transform="translate(-112.17,8.97) scale(0.983,0.902)" x="-2.24" style="font-size:13.12px">[</text><text class="a" transform="translate(-105.53,9.80) scale(1.026,1.000)" x="-3.80" style="font-size:13.12px">p</text><text class="a" transform="translate(-97.67,9.80) scale(1.026,1.000)" x="-3.80" style="font-size:13.12px">b</text><text class="a" transform="translate(-91.48,8.97) scale(0.983,0.902)" x="-1.41" style="font-size:13.12px">]</text></g>
<g transform="rotate(-90)"><text class="a" transform="translate(-122.20,358.30) scale(0.960,1.000)" x="-4.75" style="font-size:14.23px;font-style:italic">σ</text><text class="a" transform="translate(-111.62,357.41) scale(0.983,0.902)" x="-2.43" style="font-size:14.23px">[</text><text class="a" transform="translate(-104.42,358.30) scale(1.026,1.000)" x="-4.12" style="font-size:14.23px">p</text><text class="a" transform="translate(-95.90,358.30) scale(1.026,1.000)" x="-4.12" style="font-size:14.23px">b</text><text class="a" transform="translate(-89.19,357.41) scale(0.983,0.902)" x="-1.53" style="font-size:14.23px">]</text></g>
</svg>
</body></html>
